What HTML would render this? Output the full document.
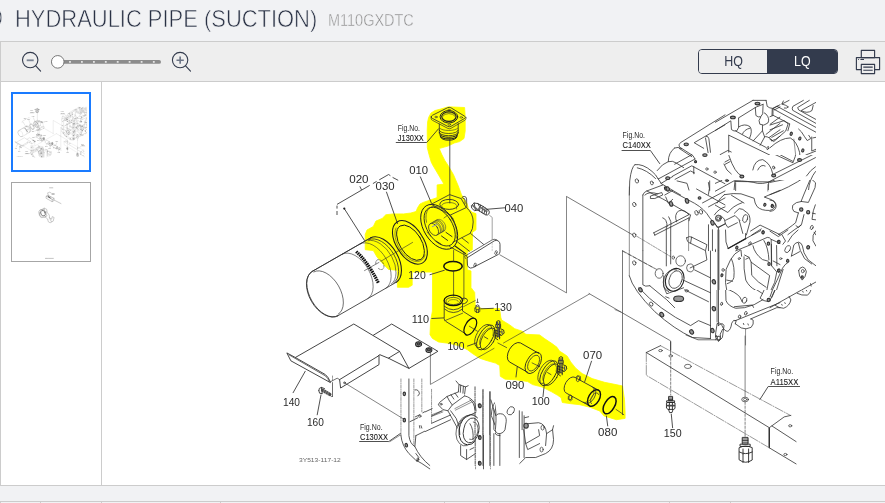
<!DOCTYPE html>
<html lang="en">
<head>
<meta charset="utf-8">
<title>HYDRAULIC PIPE (SUCTION) - M110GXDTC</title>
<style>
*{box-sizing:border-box}
html,body{margin:0;padding:0}
body{width:885px;height:503px;overflow:hidden;background:#f1f2f4;font-family:"Liberation Sans",sans-serif;color:#333b4d}
.page{position:relative;width:885px;height:503px;overflow:hidden;background:#f1f2f4}
.titlebar{position:absolute;left:0;top:0;width:885px;height:41px;background:#f1f2f4}
.title{position:absolute;left:15.4px;top:5px;margin:0;font-weight:400;font-size:24px;line-height:28px;white-space:nowrap;transform-origin:0 0;transform:scaleX(.914);color:#2a3245;-webkit-text-stroke:.6px #f1f2f4}
.cut{position:absolute;left:-2.6px;top:5.6px;font-size:18.5px;line-height:20px;color:#2a3245;-webkit-text-stroke:.5px #f1f2f4;transform-origin:0 0;transform:scaleX(.95)}
.model{position:absolute;left:328px;top:12px;font-size:16px;line-height:18px;color:#8e8e8e;white-space:nowrap;transform-origin:0 0;transform:scaleX(.905);-webkit-text-stroke:.4px #f1f2f4}
.toolbar{position:absolute;left:0;top:41px;width:885px;height:41px;background:#eee;border-top:1px solid #ccc;border-bottom:1px solid #ccc;border-left:1px solid #ccc}
.tb{position:absolute;left:-1px;top:0}
.toggle{position:absolute;left:697px;top:7px;width:140px;height:25px;border:1px solid #333b4d;border-radius:4px;overflow:hidden;font-size:14px;line-height:23px}
.toggle span{position:absolute;top:0;height:23px;text-align:center}
.toggle i{font-style:normal;display:inline-block;transform:scaleX(.89)}
.hq{left:0;width:68px;color:#333b4d;background:#eee}
.lq{left:68px;width:70px;color:#fff;background:#333b4d}
.viewer{position:absolute;left:0;top:82px;width:885px;height:404px;background:#fff;border-left:1px solid #ccc;border-bottom:1px solid #ccc}
.thumbs{position:absolute;left:-1px;top:0;width:102px;height:403px;border-right:1px solid #ccc}
.thumb{position:absolute;left:11px;width:80px;height:80px;background:#fff;overflow:hidden}
.thumb.sel{top:10px;border:2px solid #1a7bff}
.thumb:not(.sel){top:100px;border:1px solid #a6a6a6}
.thumb svg{display:block}
.canvas{position:absolute;left:101px;top:0;width:783px;height:403px;overflow:hidden}
.main{display:block}
.gap{position:absolute;left:0;top:486px;width:885px;height:15px;background:#f1f2f4}
.thead{position:absolute;left:0;top:501px;width:885px;height:2px;border-top:1px solid #ccc;border-left:1px solid #ccc;background:#f1f2f4}
.thead i{position:absolute;top:0;width:1px;height:2px;background:#ccc;margin-left:-1px}

</style>
</head>
<body>
<svg width="0" height="0" style="position:absolute">
<defs>
<filter id="soft" x="102" y="82" width="783" height="403" filterUnits="userSpaceOnUse" color-interpolation-filters="sRGB"><feGaussianBlur stdDeviation="0.28"/></filter>
<filter id="soft2" x="0" y="0" width="78" height="78" filterUnits="userSpaceOnUse" color-interpolation-filters="sRGB"><feGaussianBlur stdDeviation="0.3"/></filter>
<symbol id="art" overflow="visible">
<g fill="none" stroke="#303030" stroke-width="0.85" stroke-linecap="round" stroke-linejoin="round" font-family="'Liberation Sans',sans-serif">
<g>
<text x="349.2" y="183.3" font-size="10.1" textLength="19.4" lengthAdjust="spacingAndGlyphs" fill="#2b2b2b" stroke="none">020</text>
<text x="375.6" y="189.9" font-size="10.1" textLength="19" lengthAdjust="spacingAndGlyphs" fill="#2b2b2b" stroke="none">030</text>
<text x="409.2" y="174.3" font-size="10.1" textLength="18.9" lengthAdjust="spacingAndGlyphs" fill="#2b2b2b" stroke="none">010</text>
<text x="504.6" y="211.8" font-size="10.1" textLength="18.8" lengthAdjust="spacingAndGlyphs" fill="#2b2b2b" stroke="none">040</text>
<text x="408.3" y="279.2" font-size="10.1" textLength="17.4" lengthAdjust="spacingAndGlyphs" fill="#2b2b2b" stroke="none">120</text>
<text x="411.7" y="322.5" font-size="10.1" textLength="17.4" lengthAdjust="spacingAndGlyphs" fill="#2b2b2b" stroke="none">110</text>
<text x="494.2" y="310.5" font-size="10.1" textLength="17.6" lengthAdjust="spacingAndGlyphs" fill="#2b2b2b" stroke="none">130</text>
<text x="447.4" y="350.4" font-size="10.1" textLength="17.2" lengthAdjust="spacingAndGlyphs" fill="#2b2b2b" stroke="none">100</text>
<text x="505.4" y="389.3" font-size="10.1" textLength="18.9" lengthAdjust="spacingAndGlyphs" fill="#2b2b2b" stroke="none">090</text>
<text x="531.8" y="404.7" font-size="10.1" textLength="17.9" lengthAdjust="spacingAndGlyphs" fill="#2b2b2b" stroke="none">100</text>
<text x="583.1" y="358.7" font-size="10.1" textLength="19.1" lengthAdjust="spacingAndGlyphs" fill="#2b2b2b" stroke="none">070</text>
<text x="598.1" y="435.8" font-size="10.1" textLength="19.2" lengthAdjust="spacingAndGlyphs" fill="#2b2b2b" stroke="none">080</text>
<text x="283" y="406.2" font-size="10.1" textLength="17" lengthAdjust="spacingAndGlyphs" fill="#2b2b2b" stroke="none">140</text>
<text x="306.9" y="425.5" font-size="10.1" textLength="16.9" lengthAdjust="spacingAndGlyphs" fill="#2b2b2b" stroke="none">160</text>
<text x="397.8" y="130.7" font-size="8.5" textLength="22.2" lengthAdjust="spacingAndGlyphs" fill="#2b2b2b" stroke="none">Fig.No.</text>
<text x="397.8" y="141.1" font-size="8.5" textLength="26" lengthAdjust="spacingAndGlyphs" fill="#222" stroke="#222" stroke-width="0.1">J130XX</text>
<path d="M396.2 142.5 L426.7 142.5 L438.5 128.8"/>
<text x="360" y="429.7" font-size="8.5" textLength="22.6" lengthAdjust="spacingAndGlyphs" fill="#2b2b2b" stroke="none">Fig.No.</text>
<text x="360" y="440.1" font-size="8.5" textLength="28" lengthAdjust="spacingAndGlyphs" fill="#222" stroke="#222" stroke-width="0.1">C130XX</text>
<path d="M359.6 441.5 L388.8 441.5 L400.5 433.4"/>
<text x="299" y="462" font-size="6" textLength="41.8" lengthAdjust="spacingAndGlyphs" fill="#666" stroke="none">3Y513-117-12</text>
<path d="M360 186.7 L361.4 189.6M344.3 208.6 L364.5 240.4M386.5 192.1 L397.5 223.5M420.4 176.9 L431.4 203.1M486.6 209.3 L504.6 207.8M430 274.7 L444.3 270.3M431.8 318.5 L443.6 317.9M480.9 308.8 L493.3 308.3M467.5 346.1 L476.2 343M517.2 367.2 L516 377M543 396.6 L544.3 384.2M591.5 361.2 L584.7 381.7M606.4 416 L607.7 425.9M293.1 392.7 L305.2 371.3M317.2 414.8 L321 394.9"/>
<circle cx="344.3" cy="208.6" r="1.1" fill="#222" stroke="none"/>
<path d="M337 204.4 L369.7 185.4 M372.9 183.6 L376.6 181.4 M379.2 179.9 L388.6 174.5 L390.4 175.7 M392.6 177.4 L398.2 180.3 M337 205.6 V208.6 M337 211 V215" stroke-linecap="butt"/>
</g>
<g>
<path d="M431.2 116.9 Q431 116 432.6 115.2 L447.6 107.7 Q449.2 107 450.8 107.7 L464.8 116.3 Q466.3 117.3 464.8 118.3 L451 126.3 Q449.4 127.2 447.8 126.4 L432.4 118.4 Q431.2 117.8 431.2 116.9Z"/>
<path d="M431.2 117.4 V119 Q431.4 119.8 432.6 120.4 L447.8 128.4 Q449.4 129.2 451 128.3 L464.8 120.3 Q466 119.5 466 118.4 V117.3" stroke-width="0.7"/>
<path d="M457.7 116.8A8.8 6.2 0 1 1 440.1 116.8A8.8 6.2 0 1 1 457.7 116.8Z" stroke-width="1" stroke="#222"/>
<path d="M456.1 116.6A7.2 4.8 0 1 1 441.7 116.6A7.2 4.8 0 1 1 456.1 116.6Z" stroke-width="1.2" stroke="#222"/>
<path d="M442.8 116.2A6.5 4 0 0 1 455 116.2" stroke-width="0.6"/>
<path d="M437.3 117A1.3 0.8 0 1 1 434.7 117A1.3 0.8 0 1 1 437.3 117Z" stroke-width="0.6"/>
<path d="M450.3 110A1.3 0.8 0 1 1 447.7 110A1.3 0.8 0 1 1 450.3 110Z" stroke-width="0.6"/>
<path d="M462.6 117.4A1.3 0.8 0 1 1 460 117.4A1.3 0.8 0 1 1 462.6 117.4Z" stroke-width="0.6"/>
<path d="M450.6 124.6A1.3 0.8 0 1 1 448 124.6A1.3 0.8 0 1 1 450.6 124.6Z" stroke-width="0.6"/>
<path d="M439.3 124 V133.2 M458.2 123.6 V133.2"/>
<path d="M458.2 130.2A9.5 3.3 0 0 1 439.2 130.2" stroke-width="0.7" stroke="#222"/>
<path d="M458.2 132.4A9.5 3.3 0 0 1 439.2 132.4" stroke-width="0.8" stroke="#222"/>
<path d="M457.8 134A9.1 3.3 0 0 1 439.6 134" stroke-width="1.0" stroke="#222"/>
<path d="M457.3 135.6A8.6 3.3 0 0 1 440.1 135.6" stroke-width="1.1" stroke="#222"/>
<path d="M456.8 137A8.1 3.3 0 0 1 440.6 137" stroke-width="0.9" stroke="#222"/>
<path d="M457.6 128.3A9.5 3.3 0 0 1 439.8 128.3" stroke-width="0.6"/>
<path d="M449.8 139.5 V203" stroke-width="0.8"/>
</g>
<g>
<path d="M370.4 238 L312.2 271.4L312.2 271.4A15 25.6 -30 0 0 337.8 315.8"/>
<path d="M312.2 271.4A15.6 25.6 -30 0 0 337.8 315.8M337.8 315.8 L396 282.4"/>
<path d="M312.2 271.4 L370.4 238"/>
<path d="M313.8 271.9A14.4 24.4 -30 0 1 338.2 314.2" stroke-width="0.7"/>
<path d="M370.4 238A15 25.6 -30 0 1 396 282.4" stroke-width="1.1" stroke="#222"/>
<path d="M368.8 239.7A15 25 -30 0 1 393.7 283" stroke-width="0.8"/>
<path d="M368 240.7A15 24.8 -30 0 1 391.3 284.1" stroke-width="0.6"/>
<path d="M375.8 263.8A3.6 5.4 -30 1 1 378.5 268.5" stroke-width="0.6" stroke-dasharray="2 1.4"/>
<path d="M342.2 254.2A15 25.6 -30 0 1 367.8 298.6" stroke-width="0.6"/>
<path d="M360.2 243.9A15 25.6 -30 0 1 385.8 288.3" stroke-width="0.6"/>
<path d="M356.2 251.6 Q368 262 378.4 283" stroke="#111" stroke-width="3.2" stroke-dasharray="1.6 0.7" stroke-linecap="butt"/>
<path d="M364.5 270.6 L379 262.4M381 261.2 L412.6 242.4" stroke-width="0.6"/>
</g>
<g>
<path d="M421.4 235.2A13.6 22.6 -32 1 1 398.4 249.6A13.6 22.6 -32 1 1 421.4 235.2Z" stroke-width="1.1" stroke="#222"/>
<path d="M419.7 237A10.8 19.6 -32 1 1 401.3 248.4A10.8 19.6 -32 1 1 419.7 237Z" stroke-width="1" stroke="#222"/>
<path d="M425 254.9A12.2 21.2 -32 1 1 396 227.9" stroke-width="0.5"/>
</g>
<g>
<path d="M452.3 218.6A15.4 24.6 -32 1 1 426.1 235A15.4 24.6 -32 1 1 452.3 218.6Z" stroke-width="1" stroke="#222"/>
<path d="M450.4 219.9A12.6 21.4 -32 1 1 429 233.3A12.6 21.4 -32 1 1 450.4 219.9Z" stroke-width="0.9" stroke="#222"/>
<path d="M426.5 222.3A12.6 21.4 -32 1 1 456.6 238" stroke-width="0.6"/>
<path d="M437.2 227.2A4.2 6.6 -32 1 1 430 231.6A4.2 6.6 -32 1 1 437.2 227.2Z" stroke-width="0.8"/>
<path d="M432.6 222.4A4.2 6.6 -32 0 1 438.6 234.1" stroke-width="0.6" stroke="#444"/>
<path d="M433.9 221.7A4.2 6.6 -32 0 1 439.9 233.3" stroke-width="0.6" stroke="#444"/>
<path d="M435.2 220.9A4.2 6.6 -32 0 1 441.2 232.6" stroke-width="0.6" stroke="#444"/>
<path d="M436.5 220.2A4.2 6.6 -32 0 1 442.5 231.8" stroke-width="0.6" stroke="#444"/>
<path d="M437.8 219.4A4.2 6.6 -32 0 1 443.8 231.1" stroke-width="0.6" stroke="#444"/>
<path d="M430.1 223.8 L437.3 219.6M437.1 235 L444.3 230.8" stroke-width="0.6"/>
<path d="M432.4 226.6 L437 224.4" stroke="#8890c8" stroke-width="1"/>
<path d="M441.5 236 L447.6 240.4 M446 232.4 L452 236.6 M436 241 L441 244.2" stroke-width="0.9" stroke="#222"/>
<path d="M427 232 L431 236.5 M444 218 L448.6 214.6" stroke-width="0.6"/>
<path d="M431.2 204.3 L449.6 194.6 L461.2 198.6 M431.2 204.3 L450.4 215 L466.2 207.6 L461.6 199.4"/>
<path d="M458.6 204.4A9.4 5 0 1 1 439.8 204.4A9.4 5 0 1 1 458.6 204.4Z" stroke-width="0.9"/>
<path d="M441.7 205.4A7.6 3.4 0 0 1 456.7 205.4" stroke-width="0.6"/>
<path d="M442 206.4 V209 M456.6 206.4 V209" stroke-width="0.5"/>
<path d="M462 198 Q462 196.2 464.2 196.4 Q466.6 196.6 466.6 199 L466.8 207.4 M463.4 198.4 Q465 198.2 465 200 V203.8" stroke-width="0.8"/>
<path d="M466.8 207.8 Q473.2 213.6 473.2 222 Q473.2 229.4 470.2 233.4"/>
<path d="M450.4 215 Q453.6 218 454.6 222.6" stroke-width="0.6"/>
<path d="M470.2 233.4 L453 242.2 M471 233.8 L483.6 244.4 M456.6 241.2 L469.4 251.2 M453.6 248.8 L466 255.6 M449.6 246.6 L453.6 248.8 M462 238 L468.4 243" stroke-width="0.8"/>
<path d="M455 246 L465.6 253.6" stroke-width="1.1" stroke="#222"/>
</g>
<g>
<path d="M467.4 257.6 L494.4 240.8 Q497 239.4 498.8 241.4 Q500 242.6 500 244.4 V251.6 Q500 253.4 498.4 254.4 L472.8 267.6 Q470.4 268.8 468.6 267.2 Q467.4 266 467.4 264.4Z"/>
<path d="M467.4 257.6 L466.2 255.4 L492.6 239.6 Q495 238.6 497 240" stroke-width="0.7"/>
<path d="M475.9 265.3A1 1.5 20 1 1 474.1 264.7A1 1.5 20 1 1 475.9 265.3Z" stroke-width="0.7"/>
<path d="M496.9 252.9A1 1.5 20 1 1 495.1 252.3A1 1.5 20 1 1 496.9 252.9Z" stroke-width="0.7"/>
<path d="M466.4 255.2 L464.6 256.4 L465.6 258.6" stroke-width="0.6"/>
<path d="M489.6 215.4 L492.2 217.4 V240" stroke="#8a8a8a" stroke-width="0.8"/>
<path d="M492.2 243 V251" stroke="#aaa" stroke-width="0.6" stroke-dasharray="1.5 1.5"/>
<path d="M471.6 205.4 L474.2 203 L478 203.6 L479.6 206.8 L478 210.2 L474.4 210.6 L472 208.4Z M474.2 203 L475.4 210.4 M478 203.6 L483.4 206.6 M478 210.2 L482.2 212.8 M480.6 205.2 L479.4 211.2 M483.4 206.6 L488.6 210.2 Q490 212 488.8 214 Q487.6 215.6 485.6 214.8 L482.2 212.8 M483 206.6 L481.8 212.6 M485.2 208 L484 213.8 M487.2 209.4 L486 214.8" stroke-width="0.9" stroke="#333"/>
<path d="M472.8 205.6 L477.4 209.6 M481 207.6 L486.6 211.6" stroke-width="1.6" stroke="#666"/>
<path d="M499.8 254.8 L566 292.6" stroke-width="0.6"/>
</g>
<g>
<path d="M462.2 266.2A9.2 4.8 0 1 1 443.8 266.2A9.2 4.8 0 1 1 462.2 266.2Z" stroke="#111" stroke-width="1.5"/>
<path d="M453.6 250.5 V261.4 M453.6 271 V296 M463.9 252.5 V300" stroke-width="0.7"/>
<path d="M462.5 300.4A9.2 5.2 0 1 1 444.1 300.4A9.2 5.2 0 1 1 462.5 300.4Z" stroke="#111" stroke-width="1.3"/>
<path d="M460.7 301A7.4 3.6 0 1 1 445.9 301A7.4 3.6 0 1 1 460.7 301Z" stroke-width="0.7"/>
<path d="M448.3 301.6A5 2 0 0 1 458.3 301.6" stroke-width="0.5"/>
<path d="M444.2 300.6 V318.6 Q444.2 320.4 445.8 321.4 L465.6 333.8 M462.5 303.8 V311 L473.6 318"/>
<path d="M444.2 306.2 Q453.3 313.6 462.5 306.2 M444.4 309 Q453.3 316.4 462.5 309" stroke-width="0.8"/>
<path d="M445 320.6 L462.6 313.2" stroke-width="0.7"/>
<path d="M474.6 329.1A5 8.4 30 1 1 466 324.1A5 8.4 30 1 1 474.6 329.1Z" stroke="#111" stroke-width="1.2"/>
<path d="M461.6 298.6 Q464.6 297.4 466.6 298.8 Q468.4 300.4 466.6 302.4 Q464.6 304 462.4 304" stroke-width="0.9"/>
<path d="M463.5 306.7 L475.3 300.5" stroke-width="0.6"/>
<path d="M476.6 302.4 H478.4 M477.5 299 V302.4" stroke-width="0.7"/>
<path d="M475.2 307.4 Q477.4 305.6 479.8 307.4 V311.6 Q477.5 313.6 475.2 311.6Z M475.2 308.8 Q477.5 310.4 479.8 308.8 M476.6 309.6 V312.6 M478.4 309.6 V312.6 M476 305.6 Q477.5 304 479 305.6 V306.6 M476 305.6 V306.8" stroke-width="0.8" stroke="#333"/>
<path d="M469.3 326.2 L477.4 331.2 M497.9 343 L506.6 347.6 M532.1 362.9 L539.6 366.6 M616 409.4 L623.8 414.7" stroke-width="0.7"/>
</g>
<g>
<path d="M491.3 340.7A6.6 13 30 1 1 479.9 334.1A6.6 13 30 1 1 491.3 340.7Z" stroke-width="0.9" stroke="#222"/>
<path d="M493.4 341.9A6 12 30 1 1 483 335.9A6 12 30 1 1 493.4 341.9Z" stroke-width="0.8" stroke="#222"/>
<path d="M480.4 347.4A6.6 13 30 1 1 491.7 327.9" stroke-width="0.8"/>
<path d="M479.6 344.4A5.2 10.6 30 1 1 492.9 335.5" stroke-width="0.6"/>
<path d="M484.4 336.8 L487.8 338.8" stroke-width="0.8"/>
<path d="M496.79999999999995 321.4 Q498.4 319.79999999999995 500.0 321.4 V324.4 H496.79999999999995Z M496.2 324.4 H500.59999999999997 V327.59999999999997 H496.2Z M497.2 327.59999999999997 V337.4 M499.59999999999997 327.59999999999997 V338.79999999999995 M500.59999999999997 328.79999999999995 L503.59999999999997 330.0 L504.2 333.0 L501.59999999999997 335.59999999999997 L499.59999999999997 334.79999999999995 M495.79999999999995 330.4 L500.79999999999995 332.0 M495.59999999999997 333.0 L500.4 334.59999999999997 M495.4 335.4 L499.79999999999995 337.2 M495.0 330.4 V337.79999999999995 L497.79999999999995 339.79999999999995" stroke-width="0.9" stroke="#222"/>
<path d="M497.4 322.4 V327.0 M499.4 322.4 V327.0 M498.4 328.4 V336.4 M501.79999999999995 330.79999999999995 L502.2 334.0" stroke-width="1.3" stroke="#555"/>
<path d="M554.5 376.5A6.6 13 30 1 1 543.1 369.9A6.6 13 30 1 1 554.5 376.5Z" stroke-width="0.9" stroke="#222"/>
<path d="M556.6 377.7A6 12 30 1 1 546.2 371.7A6 12 30 1 1 556.6 377.7Z" stroke-width="0.8" stroke="#222"/>
<path d="M543.6 383.2A6.6 13 30 1 1 554.9 363.7" stroke-width="0.8"/>
<path d="M542.8 380.2A5.2 10.6 30 1 1 556.1 371.3" stroke-width="0.6"/>
<path d="M547.6 372.6 L551 374.6" stroke-width="0.8"/>
<path d="M559.4 357.4 Q561 355.79999999999995 562.6 357.4 V360.4 H559.4Z M558.8 360.4 H563.2 V363.59999999999997 H558.8Z M559.8 363.59999999999997 V373.4 M562.2 363.59999999999997 V374.79999999999995 M563.2 364.79999999999995 L566.2 366.0 L566.8 369.0 L564.2 371.59999999999997 L562.2 370.79999999999995 M558.4 366.4 L563.4 368.0 M558.2 369.0 L563 370.59999999999997 M558 371.4 L562.4 373.2 M557.6 366.4 V373.79999999999995 L560.4 375.79999999999995" stroke-width="0.9" stroke="#222"/>
<path d="M560 358.4 V363.0 M562 358.4 V363.0 M561 364.4 V372.4 M564.4 366.79999999999995 L564.8 370.0" stroke-width="1.3" stroke="#555"/>
<path d="M538.8 353.4 L520.4 342.9L520.4 342.9A6.6 11 30 0 0 509.4 361.9L509.4 361.9 L527.8 372.4" stroke="#222" stroke-width="0.9"/>
<path d="M539 366.2A6.6 11 30 1 1 527.6 359.6A6.6 11 30 1 1 539 366.2Z" stroke="#222" stroke-width="0.9"/>
<path d="M537.8 365.5A4.8 8.6 30 1 1 529.4 360.7A4.8 8.6 30 1 1 537.8 365.5Z" stroke-width="0.8"/>
<path d="M598.5 390.2 L577.1 378.6L575.1 377.4A5.4 9 30 0 0 566.1 393L566.1 393 L589.5 405.8" stroke-width="0.9"/>
<path d="M598.7 400.7A5.4 9 30 1 1 589.3 395.3A5.4 9 30 1 1 598.7 400.7Z" stroke="#111" stroke-width="1.4"/>
<path d="M593.9 387.6A5.4 9 30 0 1 584.9 403.2" stroke-width="0.8"/>
<path d="M592.1 386.6A5.4 9 30 0 1 583.1 402.2" stroke-width="0.6"/>
<path d="M591.5 403.8A3.4 6.2 30 1 1 598.8 394.6" stroke-width="0.7"/>
<path d="M579.6 379.3A1.6 2.6 10 1 1 576.4 378.7A1.6 2.6 10 1 1 579.6 379.3Z" stroke-width="0.8"/>
<path d="M576 377.4 L577.4 375.6 L580.4 376.4 L580.6 379.8" stroke-width="0.7"/>
<path d="M571.9 397.7A1.5 2.4 10 1 1 568.9 397.1A1.5 2.4 10 1 1 571.9 397.7Z" stroke-width="0.8"/>
<path d="M568.4 396 L568.2 399.4 L570.6 400.8 L572.6 399" stroke-width="0.7"/>
<path d="M613.9 407.7A5 8.6 30 1 1 605.3 402.7A5 8.6 30 1 1 613.9 407.7Z" stroke="#111" stroke-width="1.5"/>
</g>
<g>
<path d="M287.2 353.1 L295.5 357.6 L325.4 374.6 Q328.4 377 330.2 381.6 L330.4 382.6 L291.2 361Z" stroke-width="0.9"/>
<path d="M289 354.8 L325.6 376 Q328 378.4 329.4 381.4" stroke-width="0.9" stroke="#555"/>
<path d="M295.5 357.4 L353.8 324 L399.6 351.4" stroke-width="0.9"/>
<path d="M373.4 335.2 L391.7 324 L437.9 351.3 L408.9 368.4 L399.6 351.4 L388.4 358.2 L408.9 368.4" stroke-width="0.9"/>
<path d="M388.4 358.2 L379.6 354.6 L378 356.2 M379 355.4 V364.6 L340.6 388 L339.6 379.6 L378 356.2" stroke-width="0.9"/>
<path d="M330.4 381.8 L337.2 378.2 L339.6 379.6" stroke-width="0.7"/>
<path d="M332.5 382.6 V396.4" stroke-width="0.7"/>
<path d="M332.5 376 V381" stroke-width="0.5" stroke-dasharray="1.5 1.2"/>
<circle cx="344.5" cy="382.8" r="0.9" stroke-width="0.7"/>
<path d="M421.6 344.2A3 2.4 0 1 1 415.6 344.2A3 2.4 0 1 1 421.6 344.2Z" stroke="#222" stroke-width="1.1" fill="#bbb"/>
<path d="M420.1 343.9A1.5 1.1 0 1 1 417.1 343.9A1.5 1.1 0 1 1 420.1 343.9Z" stroke="#333" stroke-width="1.3" fill="#888"/>
<path d="M431.9 350.1A3 2.4 0 1 1 425.9 350.1A3 2.4 0 1 1 431.9 350.1Z" stroke="#222" stroke-width="1.1" fill="#bbb"/>
<path d="M430.4 349.8A1.5 1.1 0 1 1 427.4 349.8A1.5 1.1 0 1 1 430.4 349.8Z" stroke="#333" stroke-width="1.3" fill="#888"/>
<path d="M344.6 382.8 L404.2 419.4" stroke-width="0.6"/>
<path d="M430.4 352.6 V384.4 L494 348.4 M503.5 343 L589.4 294" stroke-width="0.6"/>
<path d="M318.8 390.6 Q318.6 387.6 321.4 387.4 L324.6 388.6 M318.8 390.6 L319.6 393.2 L322 393.6 M321.4 387.4 L322.2 393.4" stroke="#333" stroke-width="0.9"/>
<path d="M322.6 390.2 L329.8 394.4" stroke="#4a4a4a" stroke-width="3.4" stroke-linecap="round"/>
<path d="M324.4 389.2 L323.4 393 M326.4 390.6 L325.4 394.2 M328.4 391.8 L327.6 395.2" stroke="#ddd" stroke-width="0.5"/>
<path d="M332.5 396.4 L331.2 396.6" stroke-width="0.6"/>
</g>
<g>
<g transform="translate(615 95) scale(0.19891)" stroke-width="4.02">
<path d="
M553 100 L332 238 Q314 250 328 264 L392 305 L402 322
M553 150 L398 240 L446 268
M322 268 L386 310
M402 322 L218 422
M386 300 L300 348
M458 208 Q468 204 472 220 L480 288 M455 216 L468 290
M300 266 Q268 290 268 335 Q238 345 212 380
M300 266 Q318 258 336 270
M268 335 Q290 328 308 342 L345 365
M100 350 Q82 362 74 432 L72 503
M100 350 Q140 344 186 384 Q206 400 216 420
M112 366 Q160 376 204 420
M216 420 L232 444 L290 410
M290 408 L386 356 L553 446
M302 424 L380 382 L400 392
M312 432 L362 444 L372 478
M396 360 L396 396 M476 432 L476 480 M470 440 Q480 470 470 500
M150 503 Q170 482 215 497 M250 503 L290 480
M230 444 L330 503
"/>
<ellipse cx="110" cy="432" rx="8" ry="11" transform="rotate(-20 110 432)" stroke-width="3.52"/>
<ellipse cx="185" cy="442" rx="7" ry="10" transform="rotate(-20 185 442)" stroke-width="3.52"/>
<ellipse cx="462" cy="372" rx="6" ry="6" transform="rotate(0 462 372)" stroke-width="3.52"/>
<ellipse cx="503" cy="388" rx="6" ry="6" transform="rotate(0 503 388)" stroke-width="3.52"/>
<ellipse cx="358" cy="248" rx="11" ry="7" transform="rotate(0 358 248)" stroke-width="5.53" stroke="#333" fill="#999"/>
<ellipse cx="452" cy="302" rx="11" ry="7" transform="rotate(0 452 302)" stroke-width="5.53" stroke="#333" fill="#999"/>
<ellipse cx="265" cy="418" rx="10" ry="7" transform="rotate(0 265 418)" stroke-width="5.53" stroke="#333" fill="#999"/>
<ellipse cx="255" cy="470" rx="6" ry="9" transform="rotate(-20 255 470)" stroke-width="5.53" stroke="#333" fill="#999"/>
<ellipse cx="405" cy="335" rx="5" ry="5" transform="rotate(0 405 335)" stroke-width="5.53" stroke="#333" fill="#999"/>
</g>
<text x="622.6" y="137.7" font-size="8.5" textLength="22.4" lengthAdjust="spacingAndGlyphs" fill="#2b2b2b" stroke="none">Fig.No.</text>
<text x="622.6" y="148.3" font-size="8.5" textLength="28.2" lengthAdjust="spacingAndGlyphs" fill="#222" stroke="#222" stroke-width="0.1">C140XX</text>
<path d="M622 150.5 H650.4 L659.7 163.6"/>
<clipPath id="cB"><rect x="715" y="155" width="101" height="35"/></clipPath><g clip-path="url(#cB)">
<g transform="translate(715 90) scale(0.19891)" stroke-width="4.02">
<path d="
M50 132 L190 52 L250 50
M50 178 L80 160 L80 202
M120 140 L200 95 M120 140 L118 202 Q100 208 82 202
M205 82 L210 130 Q225 152 242 130 L246 60
M226 150 Q214 176 240 186 Q266 176 270 140 L262 60
M290 95 L505 200 M300 80 L505 178 M290 95 L290 122 L505 232
M65 215 L390 365 M65 215 L70 330 Q100 420 135 432
M112 212 Q140 160 182 200 M150 232 Q150 190 182 186 L200 240
M230 275 L390 358
M240 186 L246 232 L232 272
M262 240 Q300 180 350 170 L372 190 Q320 200 292 250 Z
M350 170 L346 212 L292 250
M392 365 Q422 300 402 250 Q392 230 372 225
M190 402 Q200 350 240 350 Q280 370 290 420
M215 402 Q230 370 252 382
M100 460 L270 462 L505 340
M300 420 L505 318
M50 362 L72 350 M50 374 L76 360
M45 372 L60 402 L82 422
M420 200 Q450 210 460 250 L482 240 Q470 200 440 190
M400 70 Q450 58 503 80 M420 92 Q460 84 503 106
M330 60 L370 85 M340 50 L352 70
M460 432 Q480 402 505 386 M470 503 Q474 450 505 410
M100 460 L96 503 M270 462 L268 503
"/>
<ellipse cx="265" cy="288" rx="5" ry="8" transform="rotate(-20 265 288)" stroke-width="3.52"/>
<ellipse cx="295" cy="390" rx="5" ry="8" transform="rotate(-20 295 390)" stroke-width="3.52"/>
<ellipse cx="385" cy="218" rx="5" ry="8" transform="rotate(-20 385 218)" stroke-width="3.52"/>
<ellipse cx="425" cy="245" rx="5" ry="8" transform="rotate(-20 425 245)" stroke-width="3.52"/>
<ellipse cx="440" cy="305" rx="6" ry="9" transform="rotate(-20 440 305)" stroke-width="3.52"/>
<ellipse cx="60" cy="455" rx="8" ry="6" transform="rotate(0 60 455)" stroke-width="3.52"/>
<ellipse cx="90" cy="137" rx="10" ry="6" transform="rotate(0 90 137)" stroke-width="5.53" stroke="#333" fill="#999"/>
<ellipse cx="213" cy="68" rx="10" ry="6" transform="rotate(0 213 68)" stroke-width="5.53" stroke="#333" fill="#999"/>
<ellipse cx="135" cy="435" rx="10" ry="7" transform="rotate(0 135 435)" stroke-width="5.53" stroke="#333" fill="#999"/>
<ellipse cx="295" cy="430" rx="10" ry="7" transform="rotate(0 295 430)" stroke-width="5.53" stroke="#333" fill="#999"/>
<ellipse cx="425" cy="352" rx="10" ry="7" transform="rotate(0 425 352)" stroke-width="5.53" stroke="#333" fill="#999"/>
</g>
</g>
<clipPath id="cB2"><rect x="715" y="90" width="101" height="65"/></clipPath><g clip-path="url(#cB2)">
<g transform="translate(710 95) scale(0.11925)" stroke-width="6.71">
<path d="
M0 255 L360 45
M0 325 L172 218 M240 192 L385 102 L445 78
M175 220 L180 290 Q200 308 225 300 L240 272 L240 195
M380 105 L385 172 Q405 190 425 182 L442 158 L445 80
M425 185 Q400 215 418 245 Q450 265 485 235 Q505 200 470 160 L455 150
M470 45 L480 95 Q500 112 525 112 L587 82 M522 115 L520 172 M587 100 L540 125
M240 268 Q290 235 335 265 Q360 300 332 362 M272 328 Q285 290 335 278
M160 338 L500 503 M215 302 L335 368 L470 440
M157 338 L157 480 M85 500 L150 465 L178 478
M440 255 L440 300 L362 385 M440 300 L458 352 L420 422 M458 350 Q480 340 520 378
M470 330 L587 238 M498 355 L587 292 M515 385 Q550 380 587 345 M587 185 L505 245
M360 45 L470 45
"/>
<ellipse cx="485" cy="445" rx="7" ry="14" transform="rotate(20 485 445)" stroke-width="5.87"/>
<ellipse cx="192" cy="188" rx="20" ry="11" transform="rotate(0 192 188)" stroke-width="9.22" stroke="#333" fill="#999"/>
<ellipse cx="398" cy="72" rx="20" ry="11" transform="rotate(0 398 72)" stroke-width="9.22" stroke="#333" fill="#999"/>
</g>
<g transform="translate(770 95) scale(0.11925)" stroke-width="6.71">
<path d="
M60 95 L385 272 M25 115 L385 312 M60 95 L25 115 L25 172 L0 182 M25 170 L165 242
M160 45 L100 76 L112 50 M100 76 Q130 82 155 100 Q140 115 120 110
M280 45 L192 95 Q182 110 190 128 L385 238
M330 45 L232 105 L240 125 L385 205
M385 62 L262 130 Q310 160 352 130 L362 88
M0 252 L118 215 L152 242 L132 302 L32 390 L0 372 M0 292 L105 250 M15 355 L112 300
M165 245 L150 300
M0 442 Q90 360 170 360 Q225 390 248 480 L250 503
M240 285 Q262 300 290 350 L312 382 L342 365 L325 338
M350 352 L350 470 L385 455 M360 360 L385 355
M300 503 L385 470
"/>
<path d="M200 370 L215 503" stroke-width="5.03" stroke="#4a4a4a"/>
<ellipse cx="178" cy="325" rx="9" ry="14" transform="rotate(20 178 325)" stroke-width="9.22" stroke="#333" fill="#999"/>
<ellipse cx="250" cy="365" rx="9" ry="13" transform="rotate(20 250 365)" stroke-width="9.22" stroke="#333" fill="#999"/>
<ellipse cx="275" cy="465" rx="9" ry="13" transform="rotate(20 275 465)" stroke-width="9.22" stroke="#333" fill="#999"/>
</g>
</g>
<g transform="translate(615 185) scale(0.19891)" stroke-width="4.02">
<path d="
M140 50 L140 330 M140 50 Q145 35 160 30 L240 0
M180 55 L235 38 L240 50 L200 68 L180 68 Z
M255 60 L268 92 L290 72
M250 12 L400 92 Q452 122 476 165 L520 215 L520 330
M160 30 L240 70 L380 150 L372 180
M490 225 L490 330 M470 200 L470 330
M372 150 Q350 120 320 130 Q295 150 310 185
M195 240 L370 150 M200 252 L372 165 M195 240 L200 252
M240 165 Q262 170 262 210 M270 160 Q285 185 282 200
M258 210 L258 330 M280 205 L280 330
M360 265 Q375 255 385 262 L462 300 L455 330 L378 292 Q362 290 360 265
M385 262 L380 292
M410 20 L553 100 M440 90 L553 30 M470 110 L553 65
M520 215 L553 195 M500 150 Q520 120 553 110
"/>
<path d="M370 165 L370 330 M72 10 L72 330" stroke-width="3.02" stroke="#4a4a4a"/>
<path d="M110 258 L280 360 M38 330 L200 420" stroke-width="3.02" stroke="#555" stroke-dasharray="15.1 6.0 4.0 6.0"/>
<ellipse cx="97" cy="98" rx="8" ry="11" transform="rotate(-20 97 98)" stroke-width="3.52"/>
<ellipse cx="97" cy="252" rx="8" ry="11" transform="rotate(-20 97 252)" stroke-width="3.52"/>
<ellipse cx="410" cy="140" rx="8" ry="12" transform="rotate(-20 410 140)" stroke-width="3.52"/>
<ellipse cx="432" cy="135" rx="8" ry="12" transform="rotate(-20 432 135)" stroke-width="3.52"/>
<ellipse cx="520" cy="165" rx="14" ry="14" transform="rotate(0 520 165)" stroke-width="3.52"/>
<ellipse cx="293" cy="365" rx="6" ry="8" transform="rotate(0 293 365)" stroke-width="3.52"/>
<ellipse cx="265" cy="20" rx="8" ry="11" transform="rotate(-20 265 20)" stroke-width="5.53" stroke="#333" fill="#999"/>
<ellipse cx="282" cy="95" rx="8" ry="12" transform="rotate(-20 282 95)" stroke-width="5.53" stroke="#333" fill="#999"/>
<ellipse cx="362" cy="80" rx="8" ry="12" transform="rotate(-20 362 80)" stroke-width="5.53" stroke="#333" fill="#999"/>
<ellipse cx="490" cy="190" rx="8" ry="12" transform="rotate(-20 490 190)" stroke-width="5.53" stroke="#333" fill="#999"/>
<ellipse cx="425" cy="65" rx="7" ry="6" transform="rotate(0 425 65)" stroke-width="5.53" stroke="#333" fill="#999"/>
</g>
<g transform="translate(615 250) scale(0.19891)" stroke-width="4.02">
<path d="
M140 5 L140 175 Q150 186 175 180
M72 130 Q90 200 200 310 Q300 400 390 440 L480 445
M120 190 Q220 300 380 380 L420 355 L480 380
M258 5 L258 80 M280 5 L280 70
M245 130 L245 185 L260 220 L345 190 M255 235 L272 242
M480 5 L480 445 M520 5 L520 380
M520 380 Q540 360 548 380 L540 440 L520 460 L510 430
M340 150 L480 215 M350 200 L470 260 M400 100 L480 140
M455 5 L462 50 L378 90
M280 462 L280 503
M175 180 L260 250 L300 290
"/>
<path d="M0 300 L30 312 M72 5 L72 130" stroke-width="3.02" stroke="#4a4a4a"/>
<ellipse cx="97" cy="65" rx="8" ry="11" transform="rotate(-20 97 65)" stroke-width="3.52"/>
<ellipse cx="182" cy="272" rx="8" ry="11" transform="rotate(-30 182 272)" stroke-width="3.52"/>
<ellipse cx="330" cy="55" rx="24" ry="26" transform="rotate(0 330 55)" stroke-width="3.52"/>
<ellipse cx="378" cy="90" rx="18" ry="20" transform="rotate(0 378 90)" stroke-width="3.52"/>
<ellipse cx="222" cy="118" rx="20" ry="24" transform="rotate(0 222 118)" stroke-width="3.52"/>
<ellipse cx="360" cy="205" rx="8" ry="6" transform="rotate(0 360 205)" stroke-width="3.52"/>
<ellipse cx="128" cy="200" rx="8" ry="11" transform="rotate(-30 128 200)" stroke-width="5.53" stroke="#333" fill="#999"/>
<ellipse cx="235" cy="325" rx="9" ry="12" transform="rotate(-30 235 325)" stroke-width="5.53" stroke="#333" fill="#999"/>
<ellipse cx="385" cy="412" rx="9" ry="12" transform="rotate(-30 385 412)" stroke-width="5.53" stroke="#333" fill="#999"/>
<ellipse cx="490" cy="405" rx="8" ry="11" transform="rotate(-20 490 405)" stroke-width="5.53" stroke="#333" fill="#999"/>
<ellipse cx="497" cy="160" rx="8" ry="11" transform="rotate(-20 497 160)" stroke-width="5.53" stroke="#333" fill="#999"/>
<ellipse cx="497" cy="295" rx="8" ry="11" transform="rotate(-20 497 295)" stroke-width="5.53" stroke="#333" fill="#999"/>
<ellipse cx="320" cy="245" rx="25" ry="14" transform="rotate(0 320 245)" stroke-width="5.53" stroke="#333" fill="#999"/>
</g>
<path d="M683.2 282.9A9 11.6 20 1 1 666.2 276.7A9 11.6 20 1 1 683.2 282.9Z" stroke="#222" stroke-width="1.1"/>
<path d="M681.4 281.7A6.2 8.2 20 1 1 669.8 277.5A6.2 8.2 20 1 1 681.4 281.7Z" stroke-width="0.8"/>
<path d="M668.6 291.7A9 11.6 20 0 1 676.6 269.9" stroke-width="0.8"/>
<clipPath id="cD"><rect x="715" y="180" width="101" height="110"/></clipPath><g clip-path="url(#cD)">
<g transform="translate(710 175) scale(0.11925)" stroke-width="6.71">
<path d="
M0 160 L205 47 Q330 50 400 70 Q480 80 587 20
M215 65 L215 130
M120 165 Q200 150 260 158 L370 195 Q375 240 395 265 Q430 300 500 297 Q545 290 550 245 Q545 215 510 205 L455 185 L587 128
M60 235 Q85 190 120 165 M180 170 L285 235 M40 250 L150 315 Q190 260 270 232
M205 320 L245 282 Q275 280 305 312 Q340 330 335 395 L305 503 M245 380 L275 490
M0 240 L40 250 M0 330 L60 440 L130 410 L120 370 L90 340
M130 380 L210 340 L250 380 M130 410 L150 440 L230 400
M340 470 L420 420 L587 500 M350 503 L430 452
M0 30 L60 0 M0 90 L100 45
"/>
<path d="M485 80 L485 135" stroke-width="5.03" stroke="#4a4a4a"/>
<ellipse cx="70" cy="365" rx="24" ry="24" transform="rotate(0 70 365)" stroke-width="5.87"/>
<ellipse cx="295" cy="365" rx="20" ry="34" transform="rotate(15 295 365)" stroke-width="5.87"/>
<ellipse cx="70" cy="365" rx="12" ry="12" transform="rotate(0 70 365)" stroke-width="5.87"/>
<ellipse cx="460" cy="250" rx="9" ry="12" transform="rotate(20 460 250)" stroke-width="9.22" stroke="#333" fill="#999"/>
<ellipse cx="522" cy="258" rx="9" ry="12" transform="rotate(20 522 258)" stroke-width="9.22" stroke="#333" fill="#999"/>
<ellipse cx="145" cy="42" rx="12" ry="8" transform="rotate(0 145 42)" stroke-width="9.22" stroke="#333" fill="#999"/>
<ellipse cx="270" cy="15" rx="12" ry="8" transform="rotate(0 270 15)" stroke-width="9.22" stroke="#333" fill="#999"/>
<ellipse cx="540" cy="5" rx="12" ry="8" transform="rotate(0 540 5)" stroke-width="9.22" stroke="#333" fill="#999"/>
<ellipse cx="15" cy="410" rx="8" ry="12" transform="rotate(0 15 410)" stroke-width="9.22" stroke="#333" fill="#999"/>
<ellipse cx="445" cy="480" rx="8" ry="12" transform="rotate(0 445 480)" stroke-width="9.22" stroke="#333" fill="#999"/>
</g>
<g transform="translate(770 175) scale(0.11925)" stroke-width="6.71">
<path d="
M0 62 Q150 30 300 8
M0 165 Q160 110 300 12
M300 10 Q350 25 382 65 L378 105 L322 230 L262 222 M335 42 L282 168 L262 218
M262 222 Q215 225 190 255 Q182 285 200 305 L238 318
M238 318 L215 400 Q170 440 70 500 M285 332 L265 412 L240 440 L218 425 M262 420 Q200 460 150 500
M380 250 Q360 290 352 372 L385 376 M355 320 L380 325
M0 210 Q50 215 52 260 Q50 300 0 305
M370 480 L385 503
"/>
<ellipse cx="350" cy="440" rx="11" ry="18" transform="rotate(20 350 440)" stroke-width="5.87"/>
<ellipse cx="262" cy="290" rx="14" ry="14" transform="rotate(0 262 290)" stroke-width="9.22" stroke="#333" fill="#999"/>
<ellipse cx="320" cy="312" rx="13" ry="14" transform="rotate(0 320 312)" stroke-width="9.22" stroke="#333" fill="#999"/>
<ellipse cx="20" cy="262" rx="8" ry="10" transform="rotate(0 20 262)" stroke-width="9.22" stroke="#333" fill="#999"/>
<ellipse cx="30" cy="8" rx="14" ry="10" transform="rotate(0 30 8)" stroke-width="9.22" stroke="#333" fill="#999"/>
</g>
<g transform="translate(710 230) scale(0.11925)" stroke-width="6.71">
<path d="
M130 0 L134 100 L152 155 L300 72 L425 5 M298 30 L298 70
M215 175 L330 128 L480 62 Q500 60 512 78 L587 112
M255 168 Q200 195 172 250 L135 330 L130 440 L140 503
M180 242 Q210 310 200 400 Q190 435 145 450 M140 420 L190 430
M290 210 L330 230 L300 245 M260 170 L265 220
M285 225 Q280 330 300 420 Q330 480 380 503
M345 270 L350 380 Q400 440 470 480
M330 235 L345 270 L500 382 L478 500
M360 132 Q375 200 440 248 L490 262 M452 88 Q490 150 494 250
M515 120 L517 300 L560 352 L542 440 L512 503 M587 290 L530 260
"/>
<path d="M65 0 L65 503 M76 0 L76 503" stroke-width="5.03" stroke="#4a4a4a"/>
<ellipse cx="335" cy="112" rx="9" ry="14" transform="rotate(30 335 112)" stroke-width="5.87"/>
<ellipse cx="245" cy="240" rx="10" ry="7" transform="rotate(-20 245 240)" stroke-width="5.87"/>
<ellipse cx="110" cy="335" rx="10" ry="12" transform="rotate(0 110 335)" stroke-width="5.87"/>
<ellipse cx="35" cy="170" rx="9" ry="14" transform="rotate(-20 35 170)" stroke-width="9.22" stroke="#333" fill="#999"/>
<ellipse cx="35" cy="440" rx="9" ry="14" transform="rotate(-20 35 440)" stroke-width="9.22" stroke="#333" fill="#999"/>
<ellipse cx="225" cy="148" rx="9" ry="13" transform="rotate(20 225 148)" stroke-width="9.22" stroke="#333" fill="#999"/>
<ellipse cx="445" cy="20" rx="9" ry="13" transform="rotate(20 445 20)" stroke-width="9.22" stroke="#333" fill="#999"/>
<ellipse cx="490" cy="115" rx="10" ry="13" transform="rotate(0 490 115)" stroke-width="9.22" stroke="#333" fill="#999"/>
<ellipse cx="495" cy="285" rx="10" ry="13" transform="rotate(0 495 285)" stroke-width="9.22" stroke="#333" fill="#999"/>
<ellipse cx="575" cy="100" rx="9" ry="13" transform="rotate(0 575 100)" stroke-width="9.22" stroke="#333" fill="#999"/>
<ellipse cx="575" cy="340" rx="9" ry="13" transform="rotate(0 575 340)" stroke-width="9.22" stroke="#333" fill="#999"/>
<ellipse cx="100" cy="380" rx="8" ry="12" transform="rotate(20 100 380)" stroke-width="9.22" stroke="#333" fill="#999"/>
</g>
<path d="M728.1 248.5 L745.8 238.6" stroke="#222" stroke-width="1.3"/>
<g transform="translate(770 230) scale(0.11925)" stroke-width="6.71">
<path d="
M0 10 L70 55 L150 0 M100 40 L130 92 L108 120
M150 100 Q180 40 235 0
M180 215 L200 125 Q215 105 240 102 Q268 110 272 135 Q275 190 320 250 L385 300
M238 110 Q245 170 290 240 L350 285 M178 220 L248 182
M10 80 L12 300 M55 130 L58 300
M160 265 Q120 290 105 320 L60 420 L20 503 M110 330 L75 440 L55 503
M240 340 Q245 315 275 310 Q300 318 305 350 Q300 395 270 420 Q242 395 240 340
M385 5 Q350 40 360 90 L385 135
M265 503 L385 436 M340 450 L345 470
"/>
<ellipse cx="148" cy="160" rx="20" ry="32" transform="rotate(30 148 160)" stroke-width="5.87"/>
<ellipse cx="90" cy="240" rx="10" ry="7" transform="rotate(0 90 240)" stroke-width="5.87"/>
<ellipse cx="275" cy="345" rx="12" ry="14" transform="rotate(0 275 345)" stroke-width="5.87"/>
<ellipse cx="75" cy="100" rx="9" ry="13" transform="rotate(20 75 100)" stroke-width="9.22" stroke="#333" fill="#999"/>
<ellipse cx="320" cy="145" rx="12" ry="14" transform="rotate(20 320 145)" stroke-width="9.22" stroke="#333" fill="#999"/>
<ellipse cx="148" cy="258" rx="9" ry="12" transform="rotate(20 148 258)" stroke-width="9.22" stroke="#333" fill="#999"/>
<ellipse cx="75" cy="340" rx="9" ry="13" transform="rotate(20 75 340)" stroke-width="9.22" stroke="#333" fill="#999"/>
<ellipse cx="270" cy="395" rx="9" ry="10" transform="rotate(0 270 395)" stroke-width="9.22" stroke="#333" fill="#999"/>
</g>
</g>
<clipPath id="cF"><rect x="715" y="290" width="101" height="60"/></clipPath><g clip-path="url(#cF)">
<g transform="translate(710 285) scale(0.11925)" stroke-width="6.71">
<path d="
M130 0 L134 130 Q150 175 215 195 L290 190 L370 165 L445 122
M130 30 Q210 55 250 100 L270 140
M330 0 L440 72 L420 110 Q440 135 490 140 M440 72 L472 0 M518 105 L565 0
M205 182 L355 168 L365 188
M210 300 L587 148 M340 285 L560 190 L587 190
M60 325 Q80 305 100 340 Q120 390 150 388 Q175 375 182 320 Q195 285 220 298 L212 325
M212 325 L262 360 Q300 378 345 355 Q370 330 362 295 L345 285
M60 325 L48 400 L45 442 L68 466 L90 452 L86 412 L105 372
M280 322 L284 332 M318 326 L322 336
"/>
<path d="M68 0 L68 310 M58 0 L58 310 M298 370 L298 503" stroke-width="5.03" stroke="#4a4a4a"/>
<ellipse cx="97" cy="158" rx="8" ry="14" transform="rotate(20 97 158)" stroke-width="5.87"/>
<ellipse cx="290" cy="128" rx="18" ry="26" transform="rotate(20 290 128)" stroke-width="5.87"/>
<ellipse cx="300" cy="237" rx="10" ry="16" transform="rotate(20 300 237)" stroke-width="5.87"/>
<ellipse cx="248" cy="265" rx="10" ry="14" transform="rotate(20 248 265)" stroke-width="5.87"/>
<ellipse cx="35" cy="195" rx="10" ry="15" transform="rotate(-20 35 195)" stroke-width="9.22" stroke="#333" fill="#999"/>
<ellipse cx="20" cy="385" rx="10" ry="15" transform="rotate(-20 20 385)" stroke-width="9.22" stroke="#333" fill="#999"/>
<ellipse cx="492" cy="125" rx="13" ry="13" transform="rotate(0 492 125)" stroke-width="9.22" stroke="#333" fill="#999"/>
</g>
<g transform="translate(770 285) scale(0.11925)" stroke-width="6.71">
<path d="
M0 190 L330 5
M45 172 Q75 195 115 195 Q165 175 175 125 L160 95
M228 70 Q265 90 312 85 Q345 70 350 0
M0 130 L42 40 L62 0 M0 100 L35 0
M98 162 L102 170 M124 148 L128 156 M274 52 L278 60 M304 42 L308 50
"/>
</g>
</g>
</g>
<g>
<clipPath id="cG"><path clip-rule="evenodd" d="M380 360H510V480H380Z M425 375H495V435H425Z"/></clipPath><g clip-path="url(#cG)">
<g transform="translate(390 370) scale(0.19891)" stroke-width="4.02">
<path d="
M95 45 L95 330 Q100 370 125 385 L130 330
M55 330 Q60 380 95 420 Q130 460 160 470 L200 497
M125 385 Q150 440 200 480
M210 265 L390 170 M215 235 L380 145
M130 330 L420 185
M165 215 L250 170 M100 260 L140 240 M128 235 L150 225
M125 100 Q145 95 148 120 L140 130
M245 175 Q250 150 280 140 L300 125 L340 110 L370 85 L385 95 L350 120 L320 140 Q310 160 290 165 L300 200
M340 60 L350 110 M380 70 L370 110 M335 60 L385 70
M280 140 L295 170 M300 125 L315 150 M320 112 L335 135
M300 200 Q320 250 340 280 M245 175 L265 200 L300 200
M340 280 Q345 235 400 225 L425 190
M355 380 L355 430 L385 450 L385 400 M385 450 L430 420
M470 100 L470 497
M520 150 Q540 200 530 300 Q520 330 553 330
M130 420 L145 440 L135 460
M148 280 L150 292 M156 280 L160 292
"/>
<path d="M0 360 L55 325" stroke-width="3.02" stroke="#4a4a4a"/>
<path d="M55 45 L55 330 M120 45 L120 380 M160 45 L160 210 M210 95 L210 265 M430 85 L430 497 M505 120 L505 497" stroke-width="3.02" stroke="#555" stroke-dasharray="15.1 6.0 4.0 6.0"/>
<ellipse cx="150" cy="232" rx="6" ry="6" transform="rotate(0 150 232)" stroke-width="3.52"/>
<ellipse cx="140" cy="450" rx="5" ry="8" transform="rotate(0 140 450)" stroke-width="3.52"/>
<ellipse cx="72" cy="120" rx="6" ry="9" transform="rotate(0 72 120)" stroke-width="5.53" stroke="#333" fill="#999"/>
<ellipse cx="72" cy="252" rx="6" ry="9" transform="rotate(0 72 252)" stroke-width="5.53" stroke="#333" fill="#999"/>
<ellipse cx="82" cy="378" rx="6" ry="9" transform="rotate(-20 82 378)" stroke-width="5.53" stroke="#333" fill="#999"/>
<ellipse cx="450" cy="182" rx="6" ry="9" transform="rotate(0 450 182)" stroke-width="5.53" stroke="#333" fill="#999"/>
<ellipse cx="450" cy="338" rx="6" ry="9" transform="rotate(0 450 338)" stroke-width="5.53" stroke="#333" fill="#999"/>
<ellipse cx="450" cy="468" rx="6" ry="9" transform="rotate(0 450 468)" stroke-width="5.53" stroke="#333" fill="#999"/>
</g>
</g>
<clipPath id="cG2"><rect x="425" y="375" width="70" height="60"/></clipPath><g clip-path="url(#cG2)">
<g transform="translate(425 375) scale(0.11925)" stroke-width="6.71">
<path d="
M260 50 L285 80 L340 100 L362 90 M285 80 L280 140 M340 100 L332 160 M300 85 L296 145 M322 95 L318 152
M280 142 L185 180 L122 230 L112 250 L150 290 L192 300 L228 252 L332 175
M185 180 L205 218 L228 250 M218 166 L242 202 M252 152 L276 186
M192 300 L232 372 L272 445 M215 300 L262 365 L288 440 L292 503
M332 175 Q385 185 420 240 L428 300
M282 420 Q300 375 340 355 L428 312
M0 310 L60 282 M55 345 L140 302
M55 405 L215 335 M0 475 L215 375
M545 140 L545 503
M587 230 Q560 260 556 340 L587 420
"/>
<path d="M60 332 L150 298 M250 282 L385 212 M60 345 L150 310 M255 295 L390 228" stroke-width="5.03" stroke="#4a4a4a"/>
<path d="M55 120 L55 400 M420 100 L420 503 M487 120 L487 503" stroke-width="5.03" stroke="#555" stroke-dasharray="25.2 10.1 6.7 10.1"/>
<ellipse cx="135" cy="245" rx="8" ry="8" transform="rotate(0 135 245)" stroke-width="5.87"/>
<ellipse cx="458" cy="258" rx="11" ry="17" transform="rotate(-15 458 258)" stroke-width="9.22" stroke="#333" fill="#999"/>
</g>
</g>
<path d="M475.3 441.1A10.4 15.4 12 1 1 477.5 417.8" stroke="#222" stroke-width="1"/>
<path d="M478.6 432A7.6 11.6 12 1 1 463.8 428.8A7.6 11.6 12 1 1 478.6 432Z" stroke-width="0.9"/>
<path d="M473.3 421.9A5.6 9 12 1 1 469.6 439.3" stroke-width="0.7"/>
<path d="M467.1 445.7A10.4 15.4 12 0 1 466.1 415.9" stroke-width="0.7"/>
<g transform="translate(470 370) scale(0.19891)" stroke-width="4.02">
<path d="
M65 100 L65 480 M100 110 L100 480
M0 150 Q20 160 25 200 M0 270 Q20 300 15 350 M0 400 L20 390
M105 150 L120 200 L130 230 Q140 215 165 222 Q185 235 182 260 L176 300 Q165 322 140 320 L120 300 L120 200
M120 320 L120 480 M150 322 L150 480
M248 205 L248 440 M262 210 L262 300 M272 230 L272 440
M275 240 L295 235
M290 270 L345 265 Q380 270 385 320 L415 300 L420 350 Q420 400 380 420 L330 440 L280 440 L250 470
M270 300 L280 370 L350 330 L345 300
M280 370 L290 400 L350 370
M385 320 L380 380 M415 300 L420 280
"/>
<path d="M25 85 L25 480" stroke-width="3.02" stroke="#555" stroke-dasharray="15.1 6.0 4.0 6.0"/>
<ellipse cx="205" cy="205" rx="16" ry="22" transform="rotate(30 205 205)" stroke-width="3.52"/>
<ellipse cx="365" cy="290" rx="8" ry="12" transform="rotate(0 365 290)" stroke-width="3.52"/>
<ellipse cx="360" cy="400" rx="8" ry="12" transform="rotate(0 360 400)" stroke-width="3.52"/>
<ellipse cx="50" cy="180" rx="6" ry="9" transform="rotate(0 50 180)" stroke-width="5.53" stroke="#333" fill="#999"/>
<ellipse cx="50" cy="340" rx="6" ry="9" transform="rotate(0 50 340)" stroke-width="5.53" stroke="#333" fill="#999"/>
<ellipse cx="50" cy="470" rx="6" ry="9" transform="rotate(0 50 470)" stroke-width="5.53" stroke="#333" fill="#999"/>
<ellipse cx="282" cy="280" rx="11" ry="12" transform="rotate(0 282 280)" stroke-width="5.53" stroke="#333" fill="#999"/>
</g>
<path d="M566.4 292.7 V196.4 L633.2 235.2 M622.5 251 V414.7 M589 293.5 L670.6 340.9 V355" stroke-width="0.65"/>
<path d="M622.4 251 L657 269.6" stroke-width="0.6" stroke-dasharray="4 2"/>
<path d="M646.3 352.5 L660.5 345.7 M646.3 352.5 L769.3 427.7 L784.2 416.9 L790.8 415.4 M769.3 427.7 V447.8 M769.3 447.8 L796.1 463.9 M772 426 L796.1 441.6" stroke-width="0.8"/>
<path d="M769.3 428.4 V447" stroke-width="1.4" stroke="#333"/>
<path d="M660.5 345.7 L790.8 415.6 M646.3 352.5 V375.3 L769.3 447.8" stroke-width="0.6" stroke="#555" stroke-dasharray="9 1.5 1 1.5"/>
<path d="M662.3 350.6A1.8 1.1 0 1 1 658.7 350.6A1.8 1.1 0 1 1 662.3 350.6Z" stroke-width="0.7"/>
<path d="M672.5 355.9A1.8 1.1 0 1 1 668.9 355.9A1.8 1.1 0 1 1 672.5 355.9Z" stroke-width="0.7"/>
<path d="M691.3 366.4A3.4 2.1 0 1 1 684.5 366.4A3.4 2.1 0 1 1 691.3 366.4Z" stroke-width="0.7"/>
<path d="M748.5 399.5A3.4 2.3 0 1 1 741.7 399.5A3.4 2.3 0 1 1 748.5 399.5Z" stroke-width="0.7"/>
<path d="M791.8 425.8A1.6 1.1 0 1 1 788.6 425.8A1.6 1.1 0 1 1 791.8 425.8Z" stroke-width="0.7"/>
<path d="M787 454.5A1.6 1.1 0 1 1 783.8 454.5A1.6 1.1 0 1 1 787 454.5Z" stroke-width="0.7"/>
<path d="M746.9 399.5A1.8 1.1 0 1 1 743.3 399.5A1.8 1.1 0 1 1 746.9 399.5Z" stroke-width="0.6"/>
<path d="M686 335 L698 339.8 H715.4 L718.4 336 M715.4 336.4 H720 V339.8 H715.4" stroke-width="0.7"/>
<path d="M670.7 358 V395" stroke-width="0.6" stroke-dasharray="2.4 1.6"/>
<path d="M669 396.4 H672.6 V400.6 H669Z M669 398 H672.6 M669 399.4 H672.6 M667 400.8 H674.6 V402.4 H667Z M666.8 403 L668 402.4 H673.6 L675 403 V408.4 L673.6 409.4 H668 L666.8 408.4Z M669.4 402.6 V409.2 M672.4 402.6 V409.2 M668.6 409.6 L669.6 412.6 H672 L673 409.6" stroke="#222" stroke-width="0.9"/>
<path d="M667.6 405.6 H674.4" stroke="#444" stroke-width="1.6"/>
<path d="M745.1 336 V397" stroke-width="0.6"/>
<path d="M745.1 402 V437" stroke-width="0.6" stroke-dasharray="2.4 1.6"/>
<path d="M742.6 437.4 H748 V444 H742.6Z M742.6 439 H748 M742.6 440.6 H748 M742.6 442.2 H748 M740.4 444.2 H750.2 V446.4 H740.4Z M739.4 447.6 Q745.4 444.6 752.2 447.6 V460 Q745.4 464.6 739.4 460Z M739.4 452 Q745.4 455.4 752.2 452 M743 449 V454 M748.6 449 V454 M743 454.4 V462.4 M748.6 454.4 V462.4" stroke="#222" stroke-width="0.9"/>
<text x="663.8" y="437.4" font-size="10.1" textLength="17.8" lengthAdjust="spacingAndGlyphs" fill="#2b2b2b" stroke="none">150</text>
<path d="M671.3 414.2 L672.6 427.7"/>
<text x="770.6" y="373.9" font-size="8.5" textLength="22.6" lengthAdjust="spacingAndGlyphs" fill="#2b2b2b" stroke="none">Fig.No.</text>
<text x="770.6" y="384.7" font-size="8.5" textLength="27.8" lengthAdjust="spacingAndGlyphs" fill="#222" stroke="#222" stroke-width="0.1">A115XX</text>
<path d="M799.6 386.5 H768.2 L759.9 399.5"/>
</g>
</g>
</symbol>
</defs>
</svg>
<div class="page">
  <div class="titlebar">
    <span class="cut">)</span>
    <h1 class="title">HYDRAULIC PIPE (SUCTION)</h1>
    <span class="model">M110GXDTC</span>
  </div>
  <div class="toolbar">
    <svg class="tb" width="885" height="39" viewBox="0 42 885 39">
      <g fill="none" stroke="#333b4d" stroke-width="1.1" stroke-linecap="round">
        <circle cx="30.2" cy="60.1" r="7.7"/>
        <path d="M35.8 65.8 L40.6 71.1"/>
        <path d="M26.7 60.3 H33.7" stroke-width="1.8" stroke="#7b8494" stroke-linecap="butt"/>
        <circle cx="180.1" cy="60.1" r="7.7"/>
        <path d="M185.6 65.8 L190.5 71.1"/>
        <path d="M176.5 60.2 H183.8 M180.15 56.5 V63.8" stroke-width="1.6" stroke="#6c7486" stroke-linecap="butt"/>
      </g>
      <rect x="57" y="60" width="104" height="3.8" rx="1.9" fill="#8c8c8c"/>
      <g fill="#e4e4e4">
        <rect x="69.1" y="61" width="1.8" height="1.8"/><rect x="81" y="61" width="1.8" height="1.8"/>
        <rect x="93" y="61" width="1.8" height="1.8"/><rect x="104.9" y="61" width="1.8" height="1.8"/>
        <rect x="116.8" y="61" width="1.8" height="1.8"/><rect x="128.7" y="61" width="1.8" height="1.8"/>
        <rect x="140.7" y="61" width="1.8" height="1.8"/><rect x="152.9" y="61" width="1.8" height="1.8"/>
      </g>
      <circle cx="57.75" cy="61.85" r="6.3" fill="#fff" stroke="#777" stroke-width="1"/>
      <g fill="none" stroke="#333b4d" stroke-width="1.15" stroke-linejoin="round">
        <rect x="861.3" y="50.4" width="13.3" height="7.2"/>
        <rect x="856.4" y="57.6" width="23.2" height="12"/>
        <rect x="861.3" y="64.4" width="13.3" height="9.2" fill="#eee"/>
        <path d="M863.3 67.1 H872.7 M863.3 70.2 H872.7"/>
        <path d="M858.2 59.5 H859 M860.4 59.5 H864"/>
      </g>
    </svg>
    <div class="toggle"><span class="hq"><i>HQ</i></span><span class="lq"><i>LQ</i></span></div>
  </div>
  <div class="viewer">
    <div class="thumbs">
      <div class="thumb sel">
        <svg width="76" height="76" viewBox="0 0 76 76"><g filter="url(#soft2)" opacity="0.6"><g transform="translate(-36.8 -0.3) scale(0.136)"><g fill="none" stroke="#303030" stroke-width="1.27" stroke-linecap="round" stroke-linejoin="round" font-family="'Liberation Sans',sans-serif">
<g>
<text x="349.2" y="183.3" font-size="10.1" textLength="19.4" lengthAdjust="spacingAndGlyphs" fill="#2b2b2b" stroke="none">020</text>
<text x="375.6" y="189.9" font-size="10.1" textLength="19" lengthAdjust="spacingAndGlyphs" fill="#2b2b2b" stroke="none">030</text>
<text x="409.2" y="174.3" font-size="10.1" textLength="18.9" lengthAdjust="spacingAndGlyphs" fill="#2b2b2b" stroke="none">010</text>
<text x="504.6" y="211.8" font-size="10.1" textLength="18.8" lengthAdjust="spacingAndGlyphs" fill="#2b2b2b" stroke="none">040</text>
<text x="408.3" y="279.2" font-size="10.1" textLength="17.4" lengthAdjust="spacingAndGlyphs" fill="#2b2b2b" stroke="none">120</text>
<text x="411.7" y="322.5" font-size="10.1" textLength="17.4" lengthAdjust="spacingAndGlyphs" fill="#2b2b2b" stroke="none">110</text>
<text x="494.2" y="310.5" font-size="10.1" textLength="17.6" lengthAdjust="spacingAndGlyphs" fill="#2b2b2b" stroke="none">130</text>
<text x="447.4" y="350.4" font-size="10.1" textLength="17.2" lengthAdjust="spacingAndGlyphs" fill="#2b2b2b" stroke="none">100</text>
<text x="505.4" y="389.3" font-size="10.1" textLength="18.9" lengthAdjust="spacingAndGlyphs" fill="#2b2b2b" stroke="none">090</text>
<text x="531.8" y="404.7" font-size="10.1" textLength="17.9" lengthAdjust="spacingAndGlyphs" fill="#2b2b2b" stroke="none">100</text>
<text x="583.1" y="358.7" font-size="10.1" textLength="19.1" lengthAdjust="spacingAndGlyphs" fill="#2b2b2b" stroke="none">070</text>
<text x="598.1" y="435.8" font-size="10.1" textLength="19.2" lengthAdjust="spacingAndGlyphs" fill="#2b2b2b" stroke="none">080</text>
<text x="283" y="406.2" font-size="10.1" textLength="17" lengthAdjust="spacingAndGlyphs" fill="#2b2b2b" stroke="none">140</text>
<text x="306.9" y="425.5" font-size="10.1" textLength="16.9" lengthAdjust="spacingAndGlyphs" fill="#2b2b2b" stroke="none">160</text>
<text x="397.8" y="130.7" font-size="8.5" textLength="22.2" lengthAdjust="spacingAndGlyphs" fill="#2b2b2b" stroke="none">Fig.No.</text>
<text x="397.8" y="141.1" font-size="8.5" textLength="26" lengthAdjust="spacingAndGlyphs" fill="#222" stroke="#222" stroke-width="0.15">J130XX</text>
<path d="M396.2 142.5 L426.7 142.5 L438.5 128.8"/>
<text x="360" y="429.7" font-size="8.5" textLength="22.6" lengthAdjust="spacingAndGlyphs" fill="#2b2b2b" stroke="none">Fig.No.</text>
<text x="360" y="440.1" font-size="8.5" textLength="28" lengthAdjust="spacingAndGlyphs" fill="#222" stroke="#222" stroke-width="0.15">C130XX</text>
<path d="M359.6 441.5 L388.8 441.5 L400.5 433.4"/>
<text x="299" y="462" font-size="6" textLength="41.8" lengthAdjust="spacingAndGlyphs" fill="#666" stroke="none">3Y513-117-12</text>
<path d="M360 186.7 L361.4 189.6M344.3 208.6 L364.5 240.4M386.5 192.1 L397.5 223.5M420.4 176.9 L431.4 203.1M486.6 209.3 L504.6 207.8M430 274.7 L444.3 270.3M431.8 318.5 L443.6 317.9M480.9 308.8 L493.3 308.3M467.5 346.1 L476.2 343M517.2 367.2 L516 377M543 396.6 L544.3 384.2M591.5 361.2 L584.7 381.7M606.4 416 L607.7 425.9M293.1 392.7 L305.2 371.3M317.2 414.8 L321 394.9"/>
<circle cx="344.3" cy="208.6" r="1.1" fill="#222" stroke="none"/>
<path d="M337 204.4 L369.7 185.4 M372.9 183.6 L376.6 181.4 M379.2 179.9 L388.6 174.5 L390.4 175.7 M392.6 177.4 L398.2 180.3 M337 205.6 V208.6 M337 211 V215" stroke-linecap="butt"/>
</g>
<g>
<path d="M431.2 116.9 Q431 116 432.6 115.2 L447.6 107.7 Q449.2 107 450.8 107.7 L464.8 116.3 Q466.3 117.3 464.8 118.3 L451 126.3 Q449.4 127.2 447.8 126.4 L432.4 118.4 Q431.2 117.8 431.2 116.9Z"/>
<path d="M431.2 117.4 V119 Q431.4 119.8 432.6 120.4 L447.8 128.4 Q449.4 129.2 451 128.3 L464.8 120.3 Q466 119.5 466 118.4 V117.3" stroke-width="1.05"/>
<path d="M457.7 116.8A8.8 6.2 0 1 1 440.1 116.8A8.8 6.2 0 1 1 457.7 116.8Z" stroke-width="1.50" stroke="#222"/>
<path d="M456.1 116.6A7.2 4.8 0 1 1 441.7 116.6A7.2 4.8 0 1 1 456.1 116.6Z" stroke-width="1.80" stroke="#222"/>
<path d="M442.8 116.2A6.5 4 0 0 1 455 116.2" stroke-width="0.90"/>
<path d="M437.3 117A1.3 0.8 0 1 1 434.7 117A1.3 0.8 0 1 1 437.3 117Z" stroke-width="0.90"/>
<path d="M450.3 110A1.3 0.8 0 1 1 447.7 110A1.3 0.8 0 1 1 450.3 110Z" stroke-width="0.90"/>
<path d="M462.6 117.4A1.3 0.8 0 1 1 460 117.4A1.3 0.8 0 1 1 462.6 117.4Z" stroke-width="0.90"/>
<path d="M450.6 124.6A1.3 0.8 0 1 1 448 124.6A1.3 0.8 0 1 1 450.6 124.6Z" stroke-width="0.90"/>
<path d="M439.3 124 V133.2 M458.2 123.6 V133.2"/>
<path d="M458.2 130.2A9.5 3.3 0 0 1 439.2 130.2" stroke-width="1.05" stroke="#222"/>
<path d="M458.2 132.4A9.5 3.3 0 0 1 439.2 132.4" stroke-width="1.20" stroke="#222"/>
<path d="M457.8 134A9.1 3.3 0 0 1 439.6 134" stroke-width="1.50" stroke="#222"/>
<path d="M457.3 135.6A8.6 3.3 0 0 1 440.1 135.6" stroke-width="1.65" stroke="#222"/>
<path d="M456.8 137A8.1 3.3 0 0 1 440.6 137" stroke-width="1.35" stroke="#222"/>
<path d="M457.6 128.3A9.5 3.3 0 0 1 439.8 128.3" stroke-width="0.90"/>
<path d="M449.8 139.5 V203" stroke-width="1.20"/>
</g>
<g>
<path d="M370.4 238 L312.2 271.4L312.2 271.4A15 25.6 -30 0 0 337.8 315.8"/>
<path d="M312.2 271.4A15.6 25.6 -30 0 0 337.8 315.8M337.8 315.8 L396 282.4"/>
<path d="M312.2 271.4 L370.4 238"/>
<path d="M313.8 271.9A14.4 24.4 -30 0 1 338.2 314.2" stroke-width="1.05"/>
<path d="M370.4 238A15 25.6 -30 0 1 396 282.4" stroke-width="1.65" stroke="#222"/>
<path d="M368.8 239.7A15 25 -30 0 1 393.7 283" stroke-width="1.20"/>
<path d="M368 240.7A15 24.8 -30 0 1 391.3 284.1" stroke-width="0.90"/>
<path d="M375.8 263.8A3.6 5.4 -30 1 1 378.5 268.5" stroke-width="0.90" />
<path d="M342.2 254.2A15 25.6 -30 0 1 367.8 298.6" stroke-width="0.90"/>
<path d="M360.2 243.9A15 25.6 -30 0 1 385.8 288.3" stroke-width="0.90"/>
<path d="M356.2 251.6 Q368 262 378.4 283" stroke="#111" stroke-width="4.80"  stroke-linecap="butt"/>
<path d="M364.5 270.6 L379 262.4M381 261.2 L412.6 242.4" stroke-width="0.90"/>
</g>
<g>
<path d="M421.4 235.2A13.6 22.6 -32 1 1 398.4 249.6A13.6 22.6 -32 1 1 421.4 235.2Z" stroke-width="1.65" stroke="#222"/>
<path d="M419.7 237A10.8 19.6 -32 1 1 401.3 248.4A10.8 19.6 -32 1 1 419.7 237Z" stroke-width="1.50" stroke="#222"/>
<path d="M425 254.9A12.2 21.2 -32 1 1 396 227.9" stroke-width="0.75"/>
</g>
<g>
<path d="M452.3 218.6A15.4 24.6 -32 1 1 426.1 235A15.4 24.6 -32 1 1 452.3 218.6Z" stroke-width="1.50" stroke="#222"/>
<path d="M450.4 219.9A12.6 21.4 -32 1 1 429 233.3A12.6 21.4 -32 1 1 450.4 219.9Z" stroke-width="1.35" stroke="#222"/>
<path d="M426.5 222.3A12.6 21.4 -32 1 1 456.6 238" stroke-width="0.90"/>
<path d="M437.2 227.2A4.2 6.6 -32 1 1 430 231.6A4.2 6.6 -32 1 1 437.2 227.2Z" stroke-width="1.20"/>
<path d="M432.6 222.4A4.2 6.6 -32 0 1 438.6 234.1" stroke-width="0.90" stroke="#444"/>
<path d="M433.9 221.7A4.2 6.6 -32 0 1 439.9 233.3" stroke-width="0.90" stroke="#444"/>
<path d="M435.2 220.9A4.2 6.6 -32 0 1 441.2 232.6" stroke-width="0.90" stroke="#444"/>
<path d="M436.5 220.2A4.2 6.6 -32 0 1 442.5 231.8" stroke-width="0.90" stroke="#444"/>
<path d="M437.8 219.4A4.2 6.6 -32 0 1 443.8 231.1" stroke-width="0.90" stroke="#444"/>
<path d="M430.1 223.8 L437.3 219.6M437.1 235 L444.3 230.8" stroke-width="0.90"/>
<path d="M432.4 226.6 L437 224.4" stroke="#8890c8" stroke-width="1.50"/>
<path d="M441.5 236 L447.6 240.4 M446 232.4 L452 236.6 M436 241 L441 244.2" stroke-width="1.35" stroke="#222"/>
<path d="M427 232 L431 236.5 M444 218 L448.6 214.6" stroke-width="0.90"/>
<path d="M431.2 204.3 L449.6 194.6 L461.2 198.6 M431.2 204.3 L450.4 215 L466.2 207.6 L461.6 199.4"/>
<path d="M458.6 204.4A9.4 5 0 1 1 439.8 204.4A9.4 5 0 1 1 458.6 204.4Z" stroke-width="1.35"/>
<path d="M441.7 205.4A7.6 3.4 0 0 1 456.7 205.4" stroke-width="0.90"/>
<path d="M442 206.4 V209 M456.6 206.4 V209" stroke-width="0.75"/>
<path d="M462 198 Q462 196.2 464.2 196.4 Q466.6 196.6 466.6 199 L466.8 207.4 M463.4 198.4 Q465 198.2 465 200 V203.8" stroke-width="1.20"/>
<path d="M466.8 207.8 Q473.2 213.6 473.2 222 Q473.2 229.4 470.2 233.4"/>
<path d="M450.4 215 Q453.6 218 454.6 222.6" stroke-width="0.90"/>
<path d="M470.2 233.4 L453 242.2 M471 233.8 L483.6 244.4 M456.6 241.2 L469.4 251.2 M453.6 248.8 L466 255.6 M449.6 246.6 L453.6 248.8 M462 238 L468.4 243" stroke-width="1.20"/>
<path d="M455 246 L465.6 253.6" stroke-width="1.65" stroke="#222"/>
</g>
<g>
<path d="M467.4 257.6 L494.4 240.8 Q497 239.4 498.8 241.4 Q500 242.6 500 244.4 V251.6 Q500 253.4 498.4 254.4 L472.8 267.6 Q470.4 268.8 468.6 267.2 Q467.4 266 467.4 264.4Z"/>
<path d="M467.4 257.6 L466.2 255.4 L492.6 239.6 Q495 238.6 497 240" stroke-width="1.05"/>
<path d="M475.9 265.3A1 1.5 20 1 1 474.1 264.7A1 1.5 20 1 1 475.9 265.3Z" stroke-width="1.05"/>
<path d="M496.9 252.9A1 1.5 20 1 1 495.1 252.3A1 1.5 20 1 1 496.9 252.9Z" stroke-width="1.05"/>
<path d="M466.4 255.2 L464.6 256.4 L465.6 258.6" stroke-width="0.90"/>
<path d="M489.6 215.4 L492.2 217.4 V240" stroke="#8a8a8a" stroke-width="1.20"/>
<path d="M492.2 243 V251" stroke="#aaa" stroke-width="0.90" />
<path d="M471.6 205.4 L474.2 203 L478 203.6 L479.6 206.8 L478 210.2 L474.4 210.6 L472 208.4Z M474.2 203 L475.4 210.4 M478 203.6 L483.4 206.6 M478 210.2 L482.2 212.8 M480.6 205.2 L479.4 211.2 M483.4 206.6 L488.6 210.2 Q490 212 488.8 214 Q487.6 215.6 485.6 214.8 L482.2 212.8 M483 206.6 L481.8 212.6 M485.2 208 L484 213.8 M487.2 209.4 L486 214.8" stroke-width="1.35" stroke="#333"/>
<path d="M472.8 205.6 L477.4 209.6 M481 207.6 L486.6 211.6" stroke-width="2.40" stroke="#666"/>
<path d="M499.8 254.8 L566 292.6" stroke-width="0.90"/>
</g>
<g>
<path d="M462.2 266.2A9.2 4.8 0 1 1 443.8 266.2A9.2 4.8 0 1 1 462.2 266.2Z" stroke="#111" stroke-width="2.25"/>
<path d="M453.6 250.5 V261.4 M453.6 271 V296 M463.9 252.5 V300" stroke-width="1.05"/>
<path d="M462.5 300.4A9.2 5.2 0 1 1 444.1 300.4A9.2 5.2 0 1 1 462.5 300.4Z" stroke="#111" stroke-width="1.95"/>
<path d="M460.7 301A7.4 3.6 0 1 1 445.9 301A7.4 3.6 0 1 1 460.7 301Z" stroke-width="1.05"/>
<path d="M448.3 301.6A5 2 0 0 1 458.3 301.6" stroke-width="0.75"/>
<path d="M444.2 300.6 V318.6 Q444.2 320.4 445.8 321.4 L465.6 333.8 M462.5 303.8 V311 L473.6 318"/>
<path d="M444.2 306.2 Q453.3 313.6 462.5 306.2 M444.4 309 Q453.3 316.4 462.5 309" stroke-width="1.20"/>
<path d="M445 320.6 L462.6 313.2" stroke-width="1.05"/>
<path d="M474.6 329.1A5 8.4 30 1 1 466 324.1A5 8.4 30 1 1 474.6 329.1Z" stroke="#111" stroke-width="1.80"/>
<path d="M461.6 298.6 Q464.6 297.4 466.6 298.8 Q468.4 300.4 466.6 302.4 Q464.6 304 462.4 304" stroke-width="1.35"/>
<path d="M463.5 306.7 L475.3 300.5" stroke-width="0.90"/>
<path d="M476.6 302.4 H478.4 M477.5 299 V302.4" stroke-width="1.05"/>
<path d="M475.2 307.4 Q477.4 305.6 479.8 307.4 V311.6 Q477.5 313.6 475.2 311.6Z M475.2 308.8 Q477.5 310.4 479.8 308.8 M476.6 309.6 V312.6 M478.4 309.6 V312.6 M476 305.6 Q477.5 304 479 305.6 V306.6 M476 305.6 V306.8" stroke-width="1.20" stroke="#333"/>
<path d="M469.3 326.2 L477.4 331.2 M497.9 343 L506.6 347.6 M532.1 362.9 L539.6 366.6 M616 409.4 L623.8 414.7" stroke-width="1.05"/>
</g>
<g>
<path d="M491.3 340.7A6.6 13 30 1 1 479.9 334.1A6.6 13 30 1 1 491.3 340.7Z" stroke-width="1.35" stroke="#222"/>
<path d="M493.4 341.9A6 12 30 1 1 483 335.9A6 12 30 1 1 493.4 341.9Z" stroke-width="1.20" stroke="#222"/>
<path d="M480.4 347.4A6.6 13 30 1 1 491.7 327.9" stroke-width="1.20"/>
<path d="M479.6 344.4A5.2 10.6 30 1 1 492.9 335.5" stroke-width="0.90"/>
<path d="M484.4 336.8 L487.8 338.8" stroke-width="1.20"/>
<path d="M496.79999999999995 321.4 Q498.4 319.79999999999995 500.0 321.4 V324.4 H496.79999999999995Z M496.2 324.4 H500.59999999999997 V327.59999999999997 H496.2Z M497.2 327.59999999999997 V337.4 M499.59999999999997 327.59999999999997 V338.79999999999995 M500.59999999999997 328.79999999999995 L503.59999999999997 330.0 L504.2 333.0 L501.59999999999997 335.59999999999997 L499.59999999999997 334.79999999999995 M495.79999999999995 330.4 L500.79999999999995 332.0 M495.59999999999997 333.0 L500.4 334.59999999999997 M495.4 335.4 L499.79999999999995 337.2 M495.0 330.4 V337.79999999999995 L497.79999999999995 339.79999999999995" stroke-width="1.35" stroke="#222"/>
<path d="M497.4 322.4 V327.0 M499.4 322.4 V327.0 M498.4 328.4 V336.4 M501.79999999999995 330.79999999999995 L502.2 334.0" stroke-width="1.95" stroke="#555"/>
<path d="M554.5 376.5A6.6 13 30 1 1 543.1 369.9A6.6 13 30 1 1 554.5 376.5Z" stroke-width="1.35" stroke="#222"/>
<path d="M556.6 377.7A6 12 30 1 1 546.2 371.7A6 12 30 1 1 556.6 377.7Z" stroke-width="1.20" stroke="#222"/>
<path d="M543.6 383.2A6.6 13 30 1 1 554.9 363.7" stroke-width="1.20"/>
<path d="M542.8 380.2A5.2 10.6 30 1 1 556.1 371.3" stroke-width="0.90"/>
<path d="M547.6 372.6 L551 374.6" stroke-width="1.20"/>
<path d="M559.4 357.4 Q561 355.79999999999995 562.6 357.4 V360.4 H559.4Z M558.8 360.4 H563.2 V363.59999999999997 H558.8Z M559.8 363.59999999999997 V373.4 M562.2 363.59999999999997 V374.79999999999995 M563.2 364.79999999999995 L566.2 366.0 L566.8 369.0 L564.2 371.59999999999997 L562.2 370.79999999999995 M558.4 366.4 L563.4 368.0 M558.2 369.0 L563 370.59999999999997 M558 371.4 L562.4 373.2 M557.6 366.4 V373.79999999999995 L560.4 375.79999999999995" stroke-width="1.35" stroke="#222"/>
<path d="M560 358.4 V363.0 M562 358.4 V363.0 M561 364.4 V372.4 M564.4 366.79999999999995 L564.8 370.0" stroke-width="1.95" stroke="#555"/>
<path d="M538.8 353.4 L520.4 342.9L520.4 342.9A6.6 11 30 0 0 509.4 361.9L509.4 361.9 L527.8 372.4" stroke="#222" stroke-width="1.35"/>
<path d="M539 366.2A6.6 11 30 1 1 527.6 359.6A6.6 11 30 1 1 539 366.2Z" stroke="#222" stroke-width="1.35"/>
<path d="M537.8 365.5A4.8 8.6 30 1 1 529.4 360.7A4.8 8.6 30 1 1 537.8 365.5Z" stroke-width="1.20"/>
<path d="M598.5 390.2 L577.1 378.6L575.1 377.4A5.4 9 30 0 0 566.1 393L566.1 393 L589.5 405.8" stroke-width="1.35"/>
<path d="M598.7 400.7A5.4 9 30 1 1 589.3 395.3A5.4 9 30 1 1 598.7 400.7Z" stroke="#111" stroke-width="2.10"/>
<path d="M593.9 387.6A5.4 9 30 0 1 584.9 403.2" stroke-width="1.20"/>
<path d="M592.1 386.6A5.4 9 30 0 1 583.1 402.2" stroke-width="0.90"/>
<path d="M591.5 403.8A3.4 6.2 30 1 1 598.8 394.6" stroke-width="1.05"/>
<path d="M579.6 379.3A1.6 2.6 10 1 1 576.4 378.7A1.6 2.6 10 1 1 579.6 379.3Z" stroke-width="1.20"/>
<path d="M576 377.4 L577.4 375.6 L580.4 376.4 L580.6 379.8" stroke-width="1.05"/>
<path d="M571.9 397.7A1.5 2.4 10 1 1 568.9 397.1A1.5 2.4 10 1 1 571.9 397.7Z" stroke-width="1.20"/>
<path d="M568.4 396 L568.2 399.4 L570.6 400.8 L572.6 399" stroke-width="1.05"/>
<path d="M613.9 407.7A5 8.6 30 1 1 605.3 402.7A5 8.6 30 1 1 613.9 407.7Z" stroke="#111" stroke-width="2.25"/>
</g>
<g>
<path d="M287.2 353.1 L295.5 357.6 L325.4 374.6 Q328.4 377 330.2 381.6 L330.4 382.6 L291.2 361Z" stroke-width="1.35"/>
<path d="M289 354.8 L325.6 376 Q328 378.4 329.4 381.4" stroke-width="1.35" stroke="#555"/>
<path d="M295.5 357.4 L353.8 324 L399.6 351.4" stroke-width="1.35"/>
<path d="M373.4 335.2 L391.7 324 L437.9 351.3 L408.9 368.4 L399.6 351.4 L388.4 358.2 L408.9 368.4" stroke-width="1.35"/>
<path d="M388.4 358.2 L379.6 354.6 L378 356.2 M379 355.4 V364.6 L340.6 388 L339.6 379.6 L378 356.2" stroke-width="1.35"/>
<path d="M330.4 381.8 L337.2 378.2 L339.6 379.6" stroke-width="1.05"/>
<path d="M332.5 382.6 V396.4" stroke-width="1.05"/>
<path d="M332.5 376 V381" stroke-width="0.75" />
<circle cx="344.5" cy="382.8" r="0.9" stroke-width="1.05"/>
<path d="M421.6 344.2A3 2.4 0 1 1 415.6 344.2A3 2.4 0 1 1 421.6 344.2Z" stroke="#222" stroke-width="1.65" fill="#bbb"/>
<path d="M420.1 343.9A1.5 1.1 0 1 1 417.1 343.9A1.5 1.1 0 1 1 420.1 343.9Z" stroke="#333" stroke-width="1.95" fill="#888"/>
<path d="M431.9 350.1A3 2.4 0 1 1 425.9 350.1A3 2.4 0 1 1 431.9 350.1Z" stroke="#222" stroke-width="1.65" fill="#bbb"/>
<path d="M430.4 349.8A1.5 1.1 0 1 1 427.4 349.8A1.5 1.1 0 1 1 430.4 349.8Z" stroke="#333" stroke-width="1.95" fill="#888"/>
<path d="M344.6 382.8 L404.2 419.4" stroke-width="0.90"/>
<path d="M430.4 352.6 V384.4 L494 348.4 M503.5 343 L589.4 294" stroke-width="0.90"/>
<path d="M318.8 390.6 Q318.6 387.6 321.4 387.4 L324.6 388.6 M318.8 390.6 L319.6 393.2 L322 393.6 M321.4 387.4 L322.2 393.4" stroke="#333" stroke-width="1.35"/>
<path d="M322.6 390.2 L329.8 394.4" stroke="#4a4a4a" stroke-width="5.10" stroke-linecap="round"/>
<path d="M324.4 389.2 L323.4 393 M326.4 390.6 L325.4 394.2 M328.4 391.8 L327.6 395.2" stroke="#ddd" stroke-width="0.75"/>
<path d="M332.5 396.4 L331.2 396.6" stroke-width="0.90"/>
</g>
<g>
<g transform="translate(615 95) scale(0.19891)" stroke-width="6.03">
<path d="
M553 100 L332 238 Q314 250 328 264 L392 305 L402 322
M553 150 L398 240 L446 268
M322 268 L386 310
M402 322 L218 422
M386 300 L300 348
M458 208 Q468 204 472 220 L480 288 M455 216 L468 290
M300 266 Q268 290 268 335 Q238 345 212 380
M300 266 Q318 258 336 270
M268 335 Q290 328 308 342 L345 365
M100 350 Q82 362 74 432 L72 503
M100 350 Q140 344 186 384 Q206 400 216 420
M112 366 Q160 376 204 420
M216 420 L232 444 L290 410
M290 408 L386 356 L553 446
M302 424 L380 382 L400 392
M312 432 L362 444 L372 478
M396 360 L396 396 M476 432 L476 480 M470 440 Q480 470 470 500
M150 503 Q170 482 215 497 M250 503 L290 480
M230 444 L330 503
"/>
<ellipse cx="110" cy="432" rx="8" ry="11" transform="rotate(-20 110 432)" stroke-width="5.28"/>
<ellipse cx="185" cy="442" rx="7" ry="10" transform="rotate(-20 185 442)" stroke-width="5.28"/>
<ellipse cx="462" cy="372" rx="6" ry="6" transform="rotate(0 462 372)" stroke-width="5.28"/>
<ellipse cx="503" cy="388" rx="6" ry="6" transform="rotate(0 503 388)" stroke-width="5.28"/>
<ellipse cx="358" cy="248" rx="11" ry="7" transform="rotate(0 358 248)" stroke-width="8.29" stroke="#333" fill="#999"/>
<ellipse cx="452" cy="302" rx="11" ry="7" transform="rotate(0 452 302)" stroke-width="8.29" stroke="#333" fill="#999"/>
<ellipse cx="265" cy="418" rx="10" ry="7" transform="rotate(0 265 418)" stroke-width="8.29" stroke="#333" fill="#999"/>
<ellipse cx="255" cy="470" rx="6" ry="9" transform="rotate(-20 255 470)" stroke-width="8.29" stroke="#333" fill="#999"/>
<ellipse cx="405" cy="335" rx="5" ry="5" transform="rotate(0 405 335)" stroke-width="8.29" stroke="#333" fill="#999"/>
</g>
<text x="622.6" y="137.7" font-size="8.5" textLength="22.4" lengthAdjust="spacingAndGlyphs" fill="#2b2b2b" stroke="none">Fig.No.</text>
<text x="622.6" y="148.3" font-size="8.5" textLength="28.2" lengthAdjust="spacingAndGlyphs" fill="#222" stroke="#222" stroke-width="0.15">C140XX</text>
<path d="M622 150.5 H650.4 L659.7 163.6"/>
<clipPath id="cB"><rect x="715" y="155" width="101" height="35"/></clipPath><g clip-path="url(#cB)">
<g transform="translate(715 90) scale(0.19891)" stroke-width="6.03">
<path d="
M50 132 L190 52 L250 50
M50 178 L80 160 L80 202
M120 140 L200 95 M120 140 L118 202 Q100 208 82 202
M205 82 L210 130 Q225 152 242 130 L246 60
M226 150 Q214 176 240 186 Q266 176 270 140 L262 60
M290 95 L505 200 M300 80 L505 178 M290 95 L290 122 L505 232
M65 215 L390 365 M65 215 L70 330 Q100 420 135 432
M112 212 Q140 160 182 200 M150 232 Q150 190 182 186 L200 240
M230 275 L390 358
M240 186 L246 232 L232 272
M262 240 Q300 180 350 170 L372 190 Q320 200 292 250 Z
M350 170 L346 212 L292 250
M392 365 Q422 300 402 250 Q392 230 372 225
M190 402 Q200 350 240 350 Q280 370 290 420
M215 402 Q230 370 252 382
M100 460 L270 462 L505 340
M300 420 L505 318
M50 362 L72 350 M50 374 L76 360
M45 372 L60 402 L82 422
M420 200 Q450 210 460 250 L482 240 Q470 200 440 190
M400 70 Q450 58 503 80 M420 92 Q460 84 503 106
M330 60 L370 85 M340 50 L352 70
M460 432 Q480 402 505 386 M470 503 Q474 450 505 410
M100 460 L96 503 M270 462 L268 503
"/>
<ellipse cx="265" cy="288" rx="5" ry="8" transform="rotate(-20 265 288)" stroke-width="5.28"/>
<ellipse cx="295" cy="390" rx="5" ry="8" transform="rotate(-20 295 390)" stroke-width="5.28"/>
<ellipse cx="385" cy="218" rx="5" ry="8" transform="rotate(-20 385 218)" stroke-width="5.28"/>
<ellipse cx="425" cy="245" rx="5" ry="8" transform="rotate(-20 425 245)" stroke-width="5.28"/>
<ellipse cx="440" cy="305" rx="6" ry="9" transform="rotate(-20 440 305)" stroke-width="5.28"/>
<ellipse cx="60" cy="455" rx="8" ry="6" transform="rotate(0 60 455)" stroke-width="5.28"/>
<ellipse cx="90" cy="137" rx="10" ry="6" transform="rotate(0 90 137)" stroke-width="8.29" stroke="#333" fill="#999"/>
<ellipse cx="213" cy="68" rx="10" ry="6" transform="rotate(0 213 68)" stroke-width="8.29" stroke="#333" fill="#999"/>
<ellipse cx="135" cy="435" rx="10" ry="7" transform="rotate(0 135 435)" stroke-width="8.29" stroke="#333" fill="#999"/>
<ellipse cx="295" cy="430" rx="10" ry="7" transform="rotate(0 295 430)" stroke-width="8.29" stroke="#333" fill="#999"/>
<ellipse cx="425" cy="352" rx="10" ry="7" transform="rotate(0 425 352)" stroke-width="8.29" stroke="#333" fill="#999"/>
</g>
</g>
<clipPath id="cB2"><rect x="715" y="90" width="101" height="65"/></clipPath><g clip-path="url(#cB2)">
<g transform="translate(710 95) scale(0.11925)" stroke-width="10.06">
<path d="
M0 255 L360 45
M0 325 L172 218 M240 192 L385 102 L445 78
M175 220 L180 290 Q200 308 225 300 L240 272 L240 195
M380 105 L385 172 Q405 190 425 182 L442 158 L445 80
M425 185 Q400 215 418 245 Q450 265 485 235 Q505 200 470 160 L455 150
M470 45 L480 95 Q500 112 525 112 L587 82 M522 115 L520 172 M587 100 L540 125
M240 268 Q290 235 335 265 Q360 300 332 362 M272 328 Q285 290 335 278
M160 338 L500 503 M215 302 L335 368 L470 440
M157 338 L157 480 M85 500 L150 465 L178 478
M440 255 L440 300 L362 385 M440 300 L458 352 L420 422 M458 350 Q480 340 520 378
M470 330 L587 238 M498 355 L587 292 M515 385 Q550 380 587 345 M587 185 L505 245
M360 45 L470 45
"/>
<ellipse cx="485" cy="445" rx="7" ry="14" transform="rotate(20 485 445)" stroke-width="8.80"/>
<ellipse cx="192" cy="188" rx="20" ry="11" transform="rotate(0 192 188)" stroke-width="13.83" stroke="#333" fill="#999"/>
<ellipse cx="398" cy="72" rx="20" ry="11" transform="rotate(0 398 72)" stroke-width="13.83" stroke="#333" fill="#999"/>
</g>
<g transform="translate(770 95) scale(0.11925)" stroke-width="10.06">
<path d="
M60 95 L385 272 M25 115 L385 312 M60 95 L25 115 L25 172 L0 182 M25 170 L165 242
M160 45 L100 76 L112 50 M100 76 Q130 82 155 100 Q140 115 120 110
M280 45 L192 95 Q182 110 190 128 L385 238
M330 45 L232 105 L240 125 L385 205
M385 62 L262 130 Q310 160 352 130 L362 88
M0 252 L118 215 L152 242 L132 302 L32 390 L0 372 M0 292 L105 250 M15 355 L112 300
M165 245 L150 300
M0 442 Q90 360 170 360 Q225 390 248 480 L250 503
M240 285 Q262 300 290 350 L312 382 L342 365 L325 338
M350 352 L350 470 L385 455 M360 360 L385 355
M300 503 L385 470
"/>
<path d="M200 370 L215 503" stroke-width="7.54" stroke="#4a4a4a"/>
<ellipse cx="178" cy="325" rx="9" ry="14" transform="rotate(20 178 325)" stroke-width="13.83" stroke="#333" fill="#999"/>
<ellipse cx="250" cy="365" rx="9" ry="13" transform="rotate(20 250 365)" stroke-width="13.83" stroke="#333" fill="#999"/>
<ellipse cx="275" cy="465" rx="9" ry="13" transform="rotate(20 275 465)" stroke-width="13.83" stroke="#333" fill="#999"/>
</g>
</g>
<g transform="translate(615 185) scale(0.19891)" stroke-width="6.03">
<path d="
M140 50 L140 330 M140 50 Q145 35 160 30 L240 0
M180 55 L235 38 L240 50 L200 68 L180 68 Z
M255 60 L268 92 L290 72
M250 12 L400 92 Q452 122 476 165 L520 215 L520 330
M160 30 L240 70 L380 150 L372 180
M490 225 L490 330 M470 200 L470 330
M372 150 Q350 120 320 130 Q295 150 310 185
M195 240 L370 150 M200 252 L372 165 M195 240 L200 252
M240 165 Q262 170 262 210 M270 160 Q285 185 282 200
M258 210 L258 330 M280 205 L280 330
M360 265 Q375 255 385 262 L462 300 L455 330 L378 292 Q362 290 360 265
M385 262 L380 292
M410 20 L553 100 M440 90 L553 30 M470 110 L553 65
M520 215 L553 195 M500 150 Q520 120 553 110
"/>
<path d="M370 165 L370 330 M72 10 L72 330" stroke-width="4.53" stroke="#4a4a4a"/>
<path d="M110 258 L280 360 M38 330 L200 420" stroke-width="4.53" stroke="#555" />
<ellipse cx="97" cy="98" rx="8" ry="11" transform="rotate(-20 97 98)" stroke-width="5.28"/>
<ellipse cx="97" cy="252" rx="8" ry="11" transform="rotate(-20 97 252)" stroke-width="5.28"/>
<ellipse cx="410" cy="140" rx="8" ry="12" transform="rotate(-20 410 140)" stroke-width="5.28"/>
<ellipse cx="432" cy="135" rx="8" ry="12" transform="rotate(-20 432 135)" stroke-width="5.28"/>
<ellipse cx="520" cy="165" rx="14" ry="14" transform="rotate(0 520 165)" stroke-width="5.28"/>
<ellipse cx="293" cy="365" rx="6" ry="8" transform="rotate(0 293 365)" stroke-width="5.28"/>
<ellipse cx="265" cy="20" rx="8" ry="11" transform="rotate(-20 265 20)" stroke-width="8.29" stroke="#333" fill="#999"/>
<ellipse cx="282" cy="95" rx="8" ry="12" transform="rotate(-20 282 95)" stroke-width="8.29" stroke="#333" fill="#999"/>
<ellipse cx="362" cy="80" rx="8" ry="12" transform="rotate(-20 362 80)" stroke-width="8.29" stroke="#333" fill="#999"/>
<ellipse cx="490" cy="190" rx="8" ry="12" transform="rotate(-20 490 190)" stroke-width="8.29" stroke="#333" fill="#999"/>
<ellipse cx="425" cy="65" rx="7" ry="6" transform="rotate(0 425 65)" stroke-width="8.29" stroke="#333" fill="#999"/>
</g>
<g transform="translate(615 250) scale(0.19891)" stroke-width="6.03">
<path d="
M140 5 L140 175 Q150 186 175 180
M72 130 Q90 200 200 310 Q300 400 390 440 L480 445
M120 190 Q220 300 380 380 L420 355 L480 380
M258 5 L258 80 M280 5 L280 70
M245 130 L245 185 L260 220 L345 190 M255 235 L272 242
M480 5 L480 445 M520 5 L520 380
M520 380 Q540 360 548 380 L540 440 L520 460 L510 430
M340 150 L480 215 M350 200 L470 260 M400 100 L480 140
M455 5 L462 50 L378 90
M280 462 L280 503
M175 180 L260 250 L300 290
"/>
<path d="M0 300 L30 312 M72 5 L72 130" stroke-width="4.53" stroke="#4a4a4a"/>
<ellipse cx="97" cy="65" rx="8" ry="11" transform="rotate(-20 97 65)" stroke-width="5.28"/>
<ellipse cx="182" cy="272" rx="8" ry="11" transform="rotate(-30 182 272)" stroke-width="5.28"/>
<ellipse cx="330" cy="55" rx="24" ry="26" transform="rotate(0 330 55)" stroke-width="5.28"/>
<ellipse cx="378" cy="90" rx="18" ry="20" transform="rotate(0 378 90)" stroke-width="5.28"/>
<ellipse cx="222" cy="118" rx="20" ry="24" transform="rotate(0 222 118)" stroke-width="5.28"/>
<ellipse cx="360" cy="205" rx="8" ry="6" transform="rotate(0 360 205)" stroke-width="5.28"/>
<ellipse cx="128" cy="200" rx="8" ry="11" transform="rotate(-30 128 200)" stroke-width="8.29" stroke="#333" fill="#999"/>
<ellipse cx="235" cy="325" rx="9" ry="12" transform="rotate(-30 235 325)" stroke-width="8.29" stroke="#333" fill="#999"/>
<ellipse cx="385" cy="412" rx="9" ry="12" transform="rotate(-30 385 412)" stroke-width="8.29" stroke="#333" fill="#999"/>
<ellipse cx="490" cy="405" rx="8" ry="11" transform="rotate(-20 490 405)" stroke-width="8.29" stroke="#333" fill="#999"/>
<ellipse cx="497" cy="160" rx="8" ry="11" transform="rotate(-20 497 160)" stroke-width="8.29" stroke="#333" fill="#999"/>
<ellipse cx="497" cy="295" rx="8" ry="11" transform="rotate(-20 497 295)" stroke-width="8.29" stroke="#333" fill="#999"/>
<ellipse cx="320" cy="245" rx="25" ry="14" transform="rotate(0 320 245)" stroke-width="8.29" stroke="#333" fill="#999"/>
</g>
<path d="M683.2 282.9A9 11.6 20 1 1 666.2 276.7A9 11.6 20 1 1 683.2 282.9Z" stroke="#222" stroke-width="1.65"/>
<path d="M681.4 281.7A6.2 8.2 20 1 1 669.8 277.5A6.2 8.2 20 1 1 681.4 281.7Z" stroke-width="1.20"/>
<path d="M668.6 291.7A9 11.6 20 0 1 676.6 269.9" stroke-width="1.20"/>
<clipPath id="cD"><rect x="715" y="180" width="101" height="110"/></clipPath><g clip-path="url(#cD)">
<g transform="translate(710 175) scale(0.11925)" stroke-width="10.06">
<path d="
M0 160 L205 47 Q330 50 400 70 Q480 80 587 20
M215 65 L215 130
M120 165 Q200 150 260 158 L370 195 Q375 240 395 265 Q430 300 500 297 Q545 290 550 245 Q545 215 510 205 L455 185 L587 128
M60 235 Q85 190 120 165 M180 170 L285 235 M40 250 L150 315 Q190 260 270 232
M205 320 L245 282 Q275 280 305 312 Q340 330 335 395 L305 503 M245 380 L275 490
M0 240 L40 250 M0 330 L60 440 L130 410 L120 370 L90 340
M130 380 L210 340 L250 380 M130 410 L150 440 L230 400
M340 470 L420 420 L587 500 M350 503 L430 452
M0 30 L60 0 M0 90 L100 45
"/>
<path d="M485 80 L485 135" stroke-width="7.54" stroke="#4a4a4a"/>
<ellipse cx="70" cy="365" rx="24" ry="24" transform="rotate(0 70 365)" stroke-width="8.80"/>
<ellipse cx="295" cy="365" rx="20" ry="34" transform="rotate(15 295 365)" stroke-width="8.80"/>
<ellipse cx="70" cy="365" rx="12" ry="12" transform="rotate(0 70 365)" stroke-width="8.80"/>
<ellipse cx="460" cy="250" rx="9" ry="12" transform="rotate(20 460 250)" stroke-width="13.83" stroke="#333" fill="#999"/>
<ellipse cx="522" cy="258" rx="9" ry="12" transform="rotate(20 522 258)" stroke-width="13.83" stroke="#333" fill="#999"/>
<ellipse cx="145" cy="42" rx="12" ry="8" transform="rotate(0 145 42)" stroke-width="13.83" stroke="#333" fill="#999"/>
<ellipse cx="270" cy="15" rx="12" ry="8" transform="rotate(0 270 15)" stroke-width="13.83" stroke="#333" fill="#999"/>
<ellipse cx="540" cy="5" rx="12" ry="8" transform="rotate(0 540 5)" stroke-width="13.83" stroke="#333" fill="#999"/>
<ellipse cx="15" cy="410" rx="8" ry="12" transform="rotate(0 15 410)" stroke-width="13.83" stroke="#333" fill="#999"/>
<ellipse cx="445" cy="480" rx="8" ry="12" transform="rotate(0 445 480)" stroke-width="13.83" stroke="#333" fill="#999"/>
</g>
<g transform="translate(770 175) scale(0.11925)" stroke-width="10.06">
<path d="
M0 62 Q150 30 300 8
M0 165 Q160 110 300 12
M300 10 Q350 25 382 65 L378 105 L322 230 L262 222 M335 42 L282 168 L262 218
M262 222 Q215 225 190 255 Q182 285 200 305 L238 318
M238 318 L215 400 Q170 440 70 500 M285 332 L265 412 L240 440 L218 425 M262 420 Q200 460 150 500
M380 250 Q360 290 352 372 L385 376 M355 320 L380 325
M0 210 Q50 215 52 260 Q50 300 0 305
M370 480 L385 503
"/>
<ellipse cx="350" cy="440" rx="11" ry="18" transform="rotate(20 350 440)" stroke-width="8.80"/>
<ellipse cx="262" cy="290" rx="14" ry="14" transform="rotate(0 262 290)" stroke-width="13.83" stroke="#333" fill="#999"/>
<ellipse cx="320" cy="312" rx="13" ry="14" transform="rotate(0 320 312)" stroke-width="13.83" stroke="#333" fill="#999"/>
<ellipse cx="20" cy="262" rx="8" ry="10" transform="rotate(0 20 262)" stroke-width="13.83" stroke="#333" fill="#999"/>
<ellipse cx="30" cy="8" rx="14" ry="10" transform="rotate(0 30 8)" stroke-width="13.83" stroke="#333" fill="#999"/>
</g>
<g transform="translate(710 230) scale(0.11925)" stroke-width="10.06">
<path d="
M130 0 L134 100 L152 155 L300 72 L425 5 M298 30 L298 70
M215 175 L330 128 L480 62 Q500 60 512 78 L587 112
M255 168 Q200 195 172 250 L135 330 L130 440 L140 503
M180 242 Q210 310 200 400 Q190 435 145 450 M140 420 L190 430
M290 210 L330 230 L300 245 M260 170 L265 220
M285 225 Q280 330 300 420 Q330 480 380 503
M345 270 L350 380 Q400 440 470 480
M330 235 L345 270 L500 382 L478 500
M360 132 Q375 200 440 248 L490 262 M452 88 Q490 150 494 250
M515 120 L517 300 L560 352 L542 440 L512 503 M587 290 L530 260
"/>
<path d="M65 0 L65 503 M76 0 L76 503" stroke-width="7.54" stroke="#4a4a4a"/>
<ellipse cx="335" cy="112" rx="9" ry="14" transform="rotate(30 335 112)" stroke-width="8.80"/>
<ellipse cx="245" cy="240" rx="10" ry="7" transform="rotate(-20 245 240)" stroke-width="8.80"/>
<ellipse cx="110" cy="335" rx="10" ry="12" transform="rotate(0 110 335)" stroke-width="8.80"/>
<ellipse cx="35" cy="170" rx="9" ry="14" transform="rotate(-20 35 170)" stroke-width="13.83" stroke="#333" fill="#999"/>
<ellipse cx="35" cy="440" rx="9" ry="14" transform="rotate(-20 35 440)" stroke-width="13.83" stroke="#333" fill="#999"/>
<ellipse cx="225" cy="148" rx="9" ry="13" transform="rotate(20 225 148)" stroke-width="13.83" stroke="#333" fill="#999"/>
<ellipse cx="445" cy="20" rx="9" ry="13" transform="rotate(20 445 20)" stroke-width="13.83" stroke="#333" fill="#999"/>
<ellipse cx="490" cy="115" rx="10" ry="13" transform="rotate(0 490 115)" stroke-width="13.83" stroke="#333" fill="#999"/>
<ellipse cx="495" cy="285" rx="10" ry="13" transform="rotate(0 495 285)" stroke-width="13.83" stroke="#333" fill="#999"/>
<ellipse cx="575" cy="100" rx="9" ry="13" transform="rotate(0 575 100)" stroke-width="13.83" stroke="#333" fill="#999"/>
<ellipse cx="575" cy="340" rx="9" ry="13" transform="rotate(0 575 340)" stroke-width="13.83" stroke="#333" fill="#999"/>
<ellipse cx="100" cy="380" rx="8" ry="12" transform="rotate(20 100 380)" stroke-width="13.83" stroke="#333" fill="#999"/>
</g>
<path d="M728.1 248.5 L745.8 238.6" stroke="#222" stroke-width="1.95"/>
<g transform="translate(770 230) scale(0.11925)" stroke-width="10.06">
<path d="
M0 10 L70 55 L150 0 M100 40 L130 92 L108 120
M150 100 Q180 40 235 0
M180 215 L200 125 Q215 105 240 102 Q268 110 272 135 Q275 190 320 250 L385 300
M238 110 Q245 170 290 240 L350 285 M178 220 L248 182
M10 80 L12 300 M55 130 L58 300
M160 265 Q120 290 105 320 L60 420 L20 503 M110 330 L75 440 L55 503
M240 340 Q245 315 275 310 Q300 318 305 350 Q300 395 270 420 Q242 395 240 340
M385 5 Q350 40 360 90 L385 135
M265 503 L385 436 M340 450 L345 470
"/>
<ellipse cx="148" cy="160" rx="20" ry="32" transform="rotate(30 148 160)" stroke-width="8.80"/>
<ellipse cx="90" cy="240" rx="10" ry="7" transform="rotate(0 90 240)" stroke-width="8.80"/>
<ellipse cx="275" cy="345" rx="12" ry="14" transform="rotate(0 275 345)" stroke-width="8.80"/>
<ellipse cx="75" cy="100" rx="9" ry="13" transform="rotate(20 75 100)" stroke-width="13.83" stroke="#333" fill="#999"/>
<ellipse cx="320" cy="145" rx="12" ry="14" transform="rotate(20 320 145)" stroke-width="13.83" stroke="#333" fill="#999"/>
<ellipse cx="148" cy="258" rx="9" ry="12" transform="rotate(20 148 258)" stroke-width="13.83" stroke="#333" fill="#999"/>
<ellipse cx="75" cy="340" rx="9" ry="13" transform="rotate(20 75 340)" stroke-width="13.83" stroke="#333" fill="#999"/>
<ellipse cx="270" cy="395" rx="9" ry="10" transform="rotate(0 270 395)" stroke-width="13.83" stroke="#333" fill="#999"/>
</g>
</g>
<clipPath id="cF"><rect x="715" y="290" width="101" height="60"/></clipPath><g clip-path="url(#cF)">
<g transform="translate(710 285) scale(0.11925)" stroke-width="10.06">
<path d="
M130 0 L134 130 Q150 175 215 195 L290 190 L370 165 L445 122
M130 30 Q210 55 250 100 L270 140
M330 0 L440 72 L420 110 Q440 135 490 140 M440 72 L472 0 M518 105 L565 0
M205 182 L355 168 L365 188
M210 300 L587 148 M340 285 L560 190 L587 190
M60 325 Q80 305 100 340 Q120 390 150 388 Q175 375 182 320 Q195 285 220 298 L212 325
M212 325 L262 360 Q300 378 345 355 Q370 330 362 295 L345 285
M60 325 L48 400 L45 442 L68 466 L90 452 L86 412 L105 372
M280 322 L284 332 M318 326 L322 336
"/>
<path d="M68 0 L68 310 M58 0 L58 310 M298 370 L298 503" stroke-width="7.54" stroke="#4a4a4a"/>
<ellipse cx="97" cy="158" rx="8" ry="14" transform="rotate(20 97 158)" stroke-width="8.80"/>
<ellipse cx="290" cy="128" rx="18" ry="26" transform="rotate(20 290 128)" stroke-width="8.80"/>
<ellipse cx="300" cy="237" rx="10" ry="16" transform="rotate(20 300 237)" stroke-width="8.80"/>
<ellipse cx="248" cy="265" rx="10" ry="14" transform="rotate(20 248 265)" stroke-width="8.80"/>
<ellipse cx="35" cy="195" rx="10" ry="15" transform="rotate(-20 35 195)" stroke-width="13.83" stroke="#333" fill="#999"/>
<ellipse cx="20" cy="385" rx="10" ry="15" transform="rotate(-20 20 385)" stroke-width="13.83" stroke="#333" fill="#999"/>
<ellipse cx="492" cy="125" rx="13" ry="13" transform="rotate(0 492 125)" stroke-width="13.83" stroke="#333" fill="#999"/>
</g>
<g transform="translate(770 285) scale(0.11925)" stroke-width="10.06">
<path d="
M0 190 L330 5
M45 172 Q75 195 115 195 Q165 175 175 125 L160 95
M228 70 Q265 90 312 85 Q345 70 350 0
M0 130 L42 40 L62 0 M0 100 L35 0
M98 162 L102 170 M124 148 L128 156 M274 52 L278 60 M304 42 L308 50
"/>
</g>
</g>
</g>
<g>
<clipPath id="cG"><path clip-rule="evenodd" d="M380 360H510V480H380Z M425 375H495V435H425Z"/></clipPath><g clip-path="url(#cG)">
<g transform="translate(390 370) scale(0.19891)" stroke-width="6.03">
<path d="
M95 45 L95 330 Q100 370 125 385 L130 330
M55 330 Q60 380 95 420 Q130 460 160 470 L200 497
M125 385 Q150 440 200 480
M210 265 L390 170 M215 235 L380 145
M130 330 L420 185
M165 215 L250 170 M100 260 L140 240 M128 235 L150 225
M125 100 Q145 95 148 120 L140 130
M245 175 Q250 150 280 140 L300 125 L340 110 L370 85 L385 95 L350 120 L320 140 Q310 160 290 165 L300 200
M340 60 L350 110 M380 70 L370 110 M335 60 L385 70
M280 140 L295 170 M300 125 L315 150 M320 112 L335 135
M300 200 Q320 250 340 280 M245 175 L265 200 L300 200
M340 280 Q345 235 400 225 L425 190
M355 380 L355 430 L385 450 L385 400 M385 450 L430 420
M470 100 L470 497
M520 150 Q540 200 530 300 Q520 330 553 330
M130 420 L145 440 L135 460
M148 280 L150 292 M156 280 L160 292
"/>
<path d="M0 360 L55 325" stroke-width="4.53" stroke="#4a4a4a"/>
<path d="M55 45 L55 330 M120 45 L120 380 M160 45 L160 210 M210 95 L210 265 M430 85 L430 497 M505 120 L505 497" stroke-width="4.53" stroke="#555" />
<ellipse cx="150" cy="232" rx="6" ry="6" transform="rotate(0 150 232)" stroke-width="5.28"/>
<ellipse cx="140" cy="450" rx="5" ry="8" transform="rotate(0 140 450)" stroke-width="5.28"/>
<ellipse cx="72" cy="120" rx="6" ry="9" transform="rotate(0 72 120)" stroke-width="8.29" stroke="#333" fill="#999"/>
<ellipse cx="72" cy="252" rx="6" ry="9" transform="rotate(0 72 252)" stroke-width="8.29" stroke="#333" fill="#999"/>
<ellipse cx="82" cy="378" rx="6" ry="9" transform="rotate(-20 82 378)" stroke-width="8.29" stroke="#333" fill="#999"/>
<ellipse cx="450" cy="182" rx="6" ry="9" transform="rotate(0 450 182)" stroke-width="8.29" stroke="#333" fill="#999"/>
<ellipse cx="450" cy="338" rx="6" ry="9" transform="rotate(0 450 338)" stroke-width="8.29" stroke="#333" fill="#999"/>
<ellipse cx="450" cy="468" rx="6" ry="9" transform="rotate(0 450 468)" stroke-width="8.29" stroke="#333" fill="#999"/>
</g>
</g>
<clipPath id="cG2"><rect x="425" y="375" width="70" height="60"/></clipPath><g clip-path="url(#cG2)">
<g transform="translate(425 375) scale(0.11925)" stroke-width="10.06">
<path d="
M260 50 L285 80 L340 100 L362 90 M285 80 L280 140 M340 100 L332 160 M300 85 L296 145 M322 95 L318 152
M280 142 L185 180 L122 230 L112 250 L150 290 L192 300 L228 252 L332 175
M185 180 L205 218 L228 250 M218 166 L242 202 M252 152 L276 186
M192 300 L232 372 L272 445 M215 300 L262 365 L288 440 L292 503
M332 175 Q385 185 420 240 L428 300
M282 420 Q300 375 340 355 L428 312
M0 310 L60 282 M55 345 L140 302
M55 405 L215 335 M0 475 L215 375
M545 140 L545 503
M587 230 Q560 260 556 340 L587 420
"/>
<path d="M60 332 L150 298 M250 282 L385 212 M60 345 L150 310 M255 295 L390 228" stroke-width="7.54" stroke="#4a4a4a"/>
<path d="M55 120 L55 400 M420 100 L420 503 M487 120 L487 503" stroke-width="7.54" stroke="#555" />
<ellipse cx="135" cy="245" rx="8" ry="8" transform="rotate(0 135 245)" stroke-width="8.80"/>
<ellipse cx="458" cy="258" rx="11" ry="17" transform="rotate(-15 458 258)" stroke-width="13.83" stroke="#333" fill="#999"/>
</g>
</g>
<path d="M475.3 441.1A10.4 15.4 12 1 1 477.5 417.8" stroke="#222" stroke-width="1.50"/>
<path d="M478.6 432A7.6 11.6 12 1 1 463.8 428.8A7.6 11.6 12 1 1 478.6 432Z" stroke-width="1.35"/>
<path d="M473.3 421.9A5.6 9 12 1 1 469.6 439.3" stroke-width="1.05"/>
<path d="M467.1 445.7A10.4 15.4 12 0 1 466.1 415.9" stroke-width="1.05"/>
<g transform="translate(470 370) scale(0.19891)" stroke-width="6.03">
<path d="
M65 100 L65 480 M100 110 L100 480
M0 150 Q20 160 25 200 M0 270 Q20 300 15 350 M0 400 L20 390
M105 150 L120 200 L130 230 Q140 215 165 222 Q185 235 182 260 L176 300 Q165 322 140 320 L120 300 L120 200
M120 320 L120 480 M150 322 L150 480
M248 205 L248 440 M262 210 L262 300 M272 230 L272 440
M275 240 L295 235
M290 270 L345 265 Q380 270 385 320 L415 300 L420 350 Q420 400 380 420 L330 440 L280 440 L250 470
M270 300 L280 370 L350 330 L345 300
M280 370 L290 400 L350 370
M385 320 L380 380 M415 300 L420 280
"/>
<path d="M25 85 L25 480" stroke-width="4.53" stroke="#555" />
<ellipse cx="205" cy="205" rx="16" ry="22" transform="rotate(30 205 205)" stroke-width="5.28"/>
<ellipse cx="365" cy="290" rx="8" ry="12" transform="rotate(0 365 290)" stroke-width="5.28"/>
<ellipse cx="360" cy="400" rx="8" ry="12" transform="rotate(0 360 400)" stroke-width="5.28"/>
<ellipse cx="50" cy="180" rx="6" ry="9" transform="rotate(0 50 180)" stroke-width="8.29" stroke="#333" fill="#999"/>
<ellipse cx="50" cy="340" rx="6" ry="9" transform="rotate(0 50 340)" stroke-width="8.29" stroke="#333" fill="#999"/>
<ellipse cx="50" cy="470" rx="6" ry="9" transform="rotate(0 50 470)" stroke-width="8.29" stroke="#333" fill="#999"/>
<ellipse cx="282" cy="280" rx="11" ry="12" transform="rotate(0 282 280)" stroke-width="8.29" stroke="#333" fill="#999"/>
</g>
<path d="M566.4 292.7 V196.4 L633.2 235.2 M622.5 251 V414.7 M589 293.5 L670.6 340.9 V355" stroke-width="0.98"/>
<path d="M622.4 251 L657 269.6" stroke-width="0.90" />
<path d="M646.3 352.5 L660.5 345.7 M646.3 352.5 L769.3 427.7 L784.2 416.9 L790.8 415.4 M769.3 427.7 V447.8 M769.3 447.8 L796.1 463.9 M772 426 L796.1 441.6" stroke-width="1.20"/>
<path d="M769.3 428.4 V447" stroke-width="2.10" stroke="#333"/>
<path d="M660.5 345.7 L790.8 415.6 M646.3 352.5 V375.3 L769.3 447.8" stroke-width="0.90" stroke="#555" />
<path d="M662.3 350.6A1.8 1.1 0 1 1 658.7 350.6A1.8 1.1 0 1 1 662.3 350.6Z" stroke-width="1.05"/>
<path d="M672.5 355.9A1.8 1.1 0 1 1 668.9 355.9A1.8 1.1 0 1 1 672.5 355.9Z" stroke-width="1.05"/>
<path d="M691.3 366.4A3.4 2.1 0 1 1 684.5 366.4A3.4 2.1 0 1 1 691.3 366.4Z" stroke-width="1.05"/>
<path d="M748.5 399.5A3.4 2.3 0 1 1 741.7 399.5A3.4 2.3 0 1 1 748.5 399.5Z" stroke-width="1.05"/>
<path d="M791.8 425.8A1.6 1.1 0 1 1 788.6 425.8A1.6 1.1 0 1 1 791.8 425.8Z" stroke-width="1.05"/>
<path d="M787 454.5A1.6 1.1 0 1 1 783.8 454.5A1.6 1.1 0 1 1 787 454.5Z" stroke-width="1.05"/>
<path d="M746.9 399.5A1.8 1.1 0 1 1 743.3 399.5A1.8 1.1 0 1 1 746.9 399.5Z" stroke-width="0.90"/>
<path d="M686 335 L698 339.8 H715.4 L718.4 336 M715.4 336.4 H720 V339.8 H715.4" stroke-width="1.05"/>
<path d="M670.7 358 V395" stroke-width="0.90" />
<path d="M669 396.4 H672.6 V400.6 H669Z M669 398 H672.6 M669 399.4 H672.6 M667 400.8 H674.6 V402.4 H667Z M666.8 403 L668 402.4 H673.6 L675 403 V408.4 L673.6 409.4 H668 L666.8 408.4Z M669.4 402.6 V409.2 M672.4 402.6 V409.2 M668.6 409.6 L669.6 412.6 H672 L673 409.6" stroke="#222" stroke-width="1.35"/>
<path d="M667.6 405.6 H674.4" stroke="#444" stroke-width="2.40"/>
<path d="M745.1 336 V397" stroke-width="0.90"/>
<path d="M745.1 402 V437" stroke-width="0.90" />
<path d="M742.6 437.4 H748 V444 H742.6Z M742.6 439 H748 M742.6 440.6 H748 M742.6 442.2 H748 M740.4 444.2 H750.2 V446.4 H740.4Z M739.4 447.6 Q745.4 444.6 752.2 447.6 V460 Q745.4 464.6 739.4 460Z M739.4 452 Q745.4 455.4 752.2 452 M743 449 V454 M748.6 449 V454 M743 454.4 V462.4 M748.6 454.4 V462.4" stroke="#222" stroke-width="1.35"/>
<text x="663.8" y="437.4" font-size="10.1" textLength="17.8" lengthAdjust="spacingAndGlyphs" fill="#2b2b2b" stroke="none">150</text>
<path d="M671.3 414.2 L672.6 427.7"/>
<text x="770.6" y="373.9" font-size="8.5" textLength="22.6" lengthAdjust="spacingAndGlyphs" fill="#2b2b2b" stroke="none">Fig.No.</text>
<text x="770.6" y="384.7" font-size="8.5" textLength="27.8" lengthAdjust="spacingAndGlyphs" fill="#222" stroke="#222" stroke-width="0.15">A115XX</text>
<path d="M799.6 386.5 H768.2 L759.9 399.5"/>
</g>
</g></g></g></svg>
      </div>
      <div class="thumb">
        <svg width="78" height="78" viewBox="0 0 78 78"><g filter="url(#soft2)"><g fill="none" stroke="#8a8a8a" stroke-width="0.45" stroke-linecap="round" stroke-linejoin="round">
<path d="M37.6 4.8h1M39.4 4.8h1.4" stroke="#aaa" stroke-width="0.7"/>
<path d="M35.4 10.2l2.2-1 1.4 0.7M36 11l0.3 2.8M34.4 13.2l1.8-0.9 5.8 3v2.3l-2 1-5.6-3.2zM34.4 13.2l5.8 3.2 1.8-0.9M40.2 16.4v2.3M36.5 13.9q1.2-0.9 2.3 0.2l0.2 1.2M42 17l7 3.6"/>
<path d="M40 11h2.2" stroke="#666" stroke-width="0.8"/>
<path d="M36.3 13.6l1.8 1.3" stroke="#555" stroke-width="0.9"/>
<ellipse cx="31" cy="30.2" rx="2.2" ry="2.9" transform="rotate(-25 31 30.2)" stroke="#666" stroke-width="0.8"/>
<ellipse cx="30.6" cy="30.4" rx="3.4" ry="4.3" transform="rotate(-25 30.6 30.4)"/>
<path d="M28.2 27.4l4-2.2 2.4 1 0.5 2.2M32.2 25.2l0.3 1.9M34.6 28.6l2.7 3.6 0.2 2.6 2.2 1.4 0.5-2.6 1.9 0.9-0.9 3.6-3.1 1.7-1.9-1.2-0.5-2.6-2.6-2M37.5 34.9l1.9 3.8M33 33.9l2-1M27.6 29.6l-0.3 2.6 2 2.6"/>
<path d="M33.4 75.4h1.2M35.2 75.4h0.7M36.6 75.4h3M40.4 75.4h0.9" stroke="#aaa" stroke-width="0.7"/>
</g>
</g></svg>
      </div>
    </div>
    <div class="canvas">
      <svg class="main" width="783" height="403" viewBox="102 82 783 403">
        <g filter="url(#soft)">
        <path d="M427.6 122 L428.6 117.5 L431 113 L435 110.5 L439.7 109.3 L448.4 106.8 L464.6 107.5 L465.2 116.2 L465.2 131.1 L464 138.5 L459.6 141.6 L454.3 143 L447.9 146.1 L439.2 148.5 L441.6 154.1 L444.8 160.4 L447.8 165 L453.4 174.5 L458.2 185.7 L461.4 194.4 L463.8 198.6 L467 203.4 L468.5 208.7 L472.1 212.3 L476 213.6 L476 229.8 L472.5 232.3 L472.3 249.8 L467.3 252.3 L467.3 269.7 L471 271 L471 287.5 L474.7 292.4 L475.3 306.7 L482.2 308.6 L499.6 308.6 L500.8 317.3 L501.6 320 L509.7 324.9 L514.7 328.7 L522.2 331.2 L525.9 334.3 L539.6 334.9 L544.5 338.6 L552 343.6 L557 347.3 L559.4 351 L563.5 353.6 L567.3 356.2 L570.7 361.9 L575.5 367.9 L582.2 373.6 L592.2 378.6 L604.6 382.3 L617 384.8 L622.6 386 L623.2 391 L624.5 399.7 L625.1 412 L625.1 418.4 L616.4 419.7 L604 415.9 L599.6 410.9 L589.7 407.2 L579.7 404.7 L570.7 403.7 L562.3 402.5 L561.1 397.7 L557.6 395.3 L551.6 391.8 L542.1 387 L532.5 384.6 L527.7 381.6 L515.8 379.8 L505.1 379.2 L500.3 376.3 L499.7 365.5 L495.5 363.1 L487.2 360.7 L480 358.4 L472.4 353.5 L467.5 349.8 L460 346.1 L450 343.5 L438.6 342 L432.4 338.4 L430 334.7 L430.6 321 L432.4 311 L432.5 290 L432.5 272.1 L412.2 272.1 L412.2 285.2 L408.6 287.3 L397.4 287.3 L397.4 270.3 L388.5 269.4 L383.1 264 L377 257 L373.3 250.6 L365.2 249.7 L365.2 234.5 L367 230 L373.3 226.5 L375.9 221.1 L382.2 218.4 L385.8 214.8 L392.9 213.9 L403.7 213.9 L410.8 213 L416 211.5 L417.7 207.5 L420 204 L423.2 202.4 L430.3 200 L437.1 197.6 L437.1 184.9 L443.9 184.1 L438 174 L432.7 165 L431.2 162 L428.9 154.1 L427.3 147.7 L427.3 139.8 L427.2 130Z" fill="#ffff00" stroke="#ffff00" stroke-width="0.8" stroke-linejoin="round"/>
        <use href="#art"/>
        </g>
      </svg>
    </div>
  </div>
  <div class="gap"></div>
  <div class="thead"><i style="left:40px"></i><i style="left:101px"></i><i style="left:220px"></i><i style="left:444px"></i><i style="left:489px"></i><i style="left:549px"></i><i style="left:669px"></i><i style="left:730px"></i></div>
</div>
</body>
</html>
